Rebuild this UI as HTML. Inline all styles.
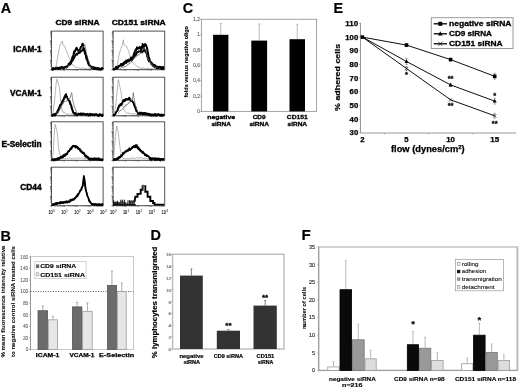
<!DOCTYPE html>
<html><head><meta charset="utf-8"><style>
html,body{margin:0;padding:0;background:#fff;width:520px;height:388px;overflow:hidden}
svg{display:block;will-change:transform;font-family:"Liberation Sans",sans-serif}
</style></head><body>
<svg width="520" height="388" viewBox="0 0 520 388">

<text x="0.85" y="12.6" font-size="14.4" font-weight="bold" text-anchor="start" fill="#000" stroke="#000" stroke-width="0.2" >A</text>
<text x="0.5" y="240.5" font-size="14.4" font-weight="bold" text-anchor="start" fill="#000" stroke="#000" stroke-width="0.2" >B</text>
<text x="182.8" y="12.6" font-size="14.4" font-weight="bold" text-anchor="start" fill="#000" stroke="#000" stroke-width="0.2" >C</text>
<text x="150.6" y="240.4" font-size="14.4" font-weight="bold" text-anchor="start" fill="#000" stroke="#000" stroke-width="0.2" >D</text>
<text x="333.4" y="12.6" font-size="14.4" font-weight="bold" text-anchor="start" fill="#000" stroke="#000" stroke-width="0.2" >E</text>
<text x="301.4" y="240.4" font-size="15.2" font-weight="bold" text-anchor="start" fill="#000" stroke="#000" stroke-width="0.2" >F</text>
<text x="77.5" y="24.9" font-size="8.1" font-weight="bold" text-anchor="middle" fill="#000" textLength="44" lengthAdjust="spacingAndGlyphs" stroke="#000" stroke-width="0.4" >CD9 siRNA</text>
<text x="138.7" y="24.9" font-size="8.1" font-weight="bold" text-anchor="middle" fill="#000" textLength="54.1" lengthAdjust="spacingAndGlyphs" stroke="#000" stroke-width="0.4" >CD151 siRNA</text>
<text x="41.6" y="52.1" font-size="8.2" font-weight="bold" text-anchor="end" fill="#000" textLength="28.3" lengthAdjust="spacingAndGlyphs" stroke="#000" stroke-width="0.4" >ICAM-1</text>
<text x="41.6" y="95.8" font-size="8.2" font-weight="bold" text-anchor="end" fill="#000" textLength="31.5" lengthAdjust="spacingAndGlyphs" stroke="#000" stroke-width="0.4" >VCAM-1</text>
<text x="41.6" y="146.5" font-size="8.2" font-weight="bold" text-anchor="end" fill="#000" textLength="40.2" lengthAdjust="spacingAndGlyphs" stroke="#000" stroke-width="0.4" >E-Selectin</text>
<text x="41.6" y="190.1" font-size="8.2" font-weight="bold" text-anchor="end" fill="#000" textLength="21.4" lengthAdjust="spacingAndGlyphs" stroke="#000" stroke-width="0.4" >CD44</text>
<rect x="51.5" y="31.1" width="51.6" height="38.5" fill="none" stroke="#4a4a4a" stroke-width="0.95"/>
<path d="M49.7,69.60 L51.5,69.60 M50.300000000000004,66.71 L51.5,66.71 M50.300000000000004,65.02 L51.5,65.02 M50.300000000000004,63.82 L51.5,63.82 M50.300000000000004,62.89 L51.5,62.89 M50.300000000000004,62.13 L51.5,62.13 M50.300000000000004,61.49 L51.5,61.49 M50.300000000000004,60.93 L51.5,60.93 M50.300000000000004,60.44 L51.5,60.44 M49.7,60.00 L51.5,60.00 M50.300000000000004,57.11 L51.5,57.11 M50.300000000000004,55.42 L51.5,55.42 M50.300000000000004,54.22 L51.5,54.22 M50.300000000000004,53.29 L51.5,53.29 M50.300000000000004,52.53 L51.5,52.53 M50.300000000000004,51.89 L51.5,51.89 M50.300000000000004,51.33 L51.5,51.33 M50.300000000000004,50.84 L51.5,50.84 M49.7,50.40 L51.5,50.40 M50.300000000000004,47.51 L51.5,47.51 M50.300000000000004,45.82 L51.5,45.82 M50.300000000000004,44.62 L51.5,44.62 M50.300000000000004,43.69 L51.5,43.69 M50.300000000000004,42.93 L51.5,42.93 M50.300000000000004,42.29 L51.5,42.29 M50.300000000000004,41.73 L51.5,41.73 M50.300000000000004,41.24 L51.5,41.24 M49.7,40.80 L51.5,40.80 M50.300000000000004,37.91 L51.5,37.91 M50.300000000000004,36.22 L51.5,36.22 M50.300000000000004,35.02 L51.5,35.02 M50.300000000000004,34.09 L51.5,34.09 M50.300000000000004,33.33 L51.5,33.33 M50.300000000000004,32.69 L51.5,32.69 M50.300000000000004,32.13 L51.5,32.13 M50.300000000000004,31.64 L51.5,31.64 M51.50,69.6 L51.50,71.0 M55.38,69.6 L55.38,70.39999999999999 M57.65,69.6 L57.65,70.39999999999999 M59.27,69.6 L59.27,70.39999999999999 M60.52,69.6 L60.52,70.39999999999999 M61.54,69.6 L61.54,70.39999999999999 M62.40,69.6 L62.40,70.39999999999999 M63.15,69.6 L63.15,70.39999999999999 M63.81,69.6 L63.81,70.39999999999999 M64.40,69.6 L64.40,71.0 M68.28,69.6 L68.28,70.39999999999999 M70.55,69.6 L70.55,70.39999999999999 M72.17,69.6 L72.17,70.39999999999999 M73.42,69.6 L73.42,70.39999999999999 M74.44,69.6 L74.44,70.39999999999999 M75.30,69.6 L75.30,70.39999999999999 M76.05,69.6 L76.05,70.39999999999999 M76.71,69.6 L76.71,70.39999999999999 M77.30,69.6 L77.30,71.0 M81.18,69.6 L81.18,70.39999999999999 M83.45,69.6 L83.45,70.39999999999999 M85.07,69.6 L85.07,70.39999999999999 M86.32,69.6 L86.32,70.39999999999999 M87.34,69.6 L87.34,70.39999999999999 M88.20,69.6 L88.20,70.39999999999999 M88.95,69.6 L88.95,70.39999999999999 M89.61,69.6 L89.61,70.39999999999999 M90.20,69.6 L90.20,71.0 M94.08,69.6 L94.08,70.39999999999999 M96.35,69.6 L96.35,70.39999999999999 M97.97,69.6 L97.97,70.39999999999999 M99.22,69.6 L99.22,70.39999999999999 M100.24,69.6 L100.24,70.39999999999999 M101.10,69.6 L101.10,70.39999999999999 M101.85,69.6 L101.85,70.39999999999999 M102.51,69.6 L102.51,70.39999999999999 " stroke="#444" stroke-width="0.55" fill="none"/>
<rect x="113.1" y="31.1" width="51.6" height="38.5" fill="none" stroke="#4a4a4a" stroke-width="0.95"/>
<path d="M111.3,69.60 L113.1,69.60 M111.89999999999999,66.71 L113.1,66.71 M111.89999999999999,65.02 L113.1,65.02 M111.89999999999999,63.82 L113.1,63.82 M111.89999999999999,62.89 L113.1,62.89 M111.89999999999999,62.13 L113.1,62.13 M111.89999999999999,61.49 L113.1,61.49 M111.89999999999999,60.93 L113.1,60.93 M111.89999999999999,60.44 L113.1,60.44 M111.3,60.00 L113.1,60.00 M111.89999999999999,57.11 L113.1,57.11 M111.89999999999999,55.42 L113.1,55.42 M111.89999999999999,54.22 L113.1,54.22 M111.89999999999999,53.29 L113.1,53.29 M111.89999999999999,52.53 L113.1,52.53 M111.89999999999999,51.89 L113.1,51.89 M111.89999999999999,51.33 L113.1,51.33 M111.89999999999999,50.84 L113.1,50.84 M111.3,50.40 L113.1,50.40 M111.89999999999999,47.51 L113.1,47.51 M111.89999999999999,45.82 L113.1,45.82 M111.89999999999999,44.62 L113.1,44.62 M111.89999999999999,43.69 L113.1,43.69 M111.89999999999999,42.93 L113.1,42.93 M111.89999999999999,42.29 L113.1,42.29 M111.89999999999999,41.73 L113.1,41.73 M111.89999999999999,41.24 L113.1,41.24 M111.3,40.80 L113.1,40.80 M111.89999999999999,37.91 L113.1,37.91 M111.89999999999999,36.22 L113.1,36.22 M111.89999999999999,35.02 L113.1,35.02 M111.89999999999999,34.09 L113.1,34.09 M111.89999999999999,33.33 L113.1,33.33 M111.89999999999999,32.69 L113.1,32.69 M111.89999999999999,32.13 L113.1,32.13 M111.89999999999999,31.64 L113.1,31.64 M113.10,69.6 L113.10,71.0 M116.98,69.6 L116.98,70.39999999999999 M119.25,69.6 L119.25,70.39999999999999 M120.87,69.6 L120.87,70.39999999999999 M122.12,69.6 L122.12,70.39999999999999 M123.14,69.6 L123.14,70.39999999999999 M124.00,69.6 L124.00,70.39999999999999 M124.75,69.6 L124.75,70.39999999999999 M125.41,69.6 L125.41,70.39999999999999 M126.00,69.6 L126.00,71.0 M129.88,69.6 L129.88,70.39999999999999 M132.15,69.6 L132.15,70.39999999999999 M133.77,69.6 L133.77,70.39999999999999 M135.02,69.6 L135.02,70.39999999999999 M136.04,69.6 L136.04,70.39999999999999 M136.90,69.6 L136.90,70.39999999999999 M137.65,69.6 L137.65,70.39999999999999 M138.31,69.6 L138.31,70.39999999999999 M138.90,69.6 L138.90,71.0 M142.78,69.6 L142.78,70.39999999999999 M145.05,69.6 L145.05,70.39999999999999 M146.67,69.6 L146.67,70.39999999999999 M147.92,69.6 L147.92,70.39999999999999 M148.94,69.6 L148.94,70.39999999999999 M149.80,69.6 L149.80,70.39999999999999 M150.55,69.6 L150.55,70.39999999999999 M151.21,69.6 L151.21,70.39999999999999 M151.80,69.6 L151.80,71.0 M155.68,69.6 L155.68,70.39999999999999 M157.95,69.6 L157.95,70.39999999999999 M159.57,69.6 L159.57,70.39999999999999 M160.82,69.6 L160.82,70.39999999999999 M161.84,69.6 L161.84,70.39999999999999 M162.70,69.6 L162.70,70.39999999999999 M163.45,69.6 L163.45,70.39999999999999 M164.11,69.6 L164.11,70.39999999999999 " stroke="#444" stroke-width="0.55" fill="none"/>
<rect x="51.5" y="77.2" width="51.6" height="38.5" fill="none" stroke="#4a4a4a" stroke-width="0.95"/>
<path d="M49.7,115.70 L51.5,115.70 M50.300000000000004,112.81 L51.5,112.81 M50.300000000000004,111.12 L51.5,111.12 M50.300000000000004,109.92 L51.5,109.92 M50.300000000000004,108.99 L51.5,108.99 M50.300000000000004,108.23 L51.5,108.23 M50.300000000000004,107.59 L51.5,107.59 M50.300000000000004,107.03 L51.5,107.03 M50.300000000000004,106.54 L51.5,106.54 M49.7,106.10 L51.5,106.10 M50.300000000000004,103.21 L51.5,103.21 M50.300000000000004,101.52 L51.5,101.52 M50.300000000000004,100.32 L51.5,100.32 M50.300000000000004,99.39 L51.5,99.39 M50.300000000000004,98.63 L51.5,98.63 M50.300000000000004,97.99 L51.5,97.99 M50.300000000000004,97.43 L51.5,97.43 M50.300000000000004,96.94 L51.5,96.94 M49.7,96.50 L51.5,96.50 M50.300000000000004,93.61 L51.5,93.61 M50.300000000000004,91.92 L51.5,91.92 M50.300000000000004,90.72 L51.5,90.72 M50.300000000000004,89.79 L51.5,89.79 M50.300000000000004,89.03 L51.5,89.03 M50.300000000000004,88.39 L51.5,88.39 M50.300000000000004,87.83 L51.5,87.83 M50.300000000000004,87.34 L51.5,87.34 M49.7,86.90 L51.5,86.90 M50.300000000000004,84.01 L51.5,84.01 M50.300000000000004,82.32 L51.5,82.32 M50.300000000000004,81.12 L51.5,81.12 M50.300000000000004,80.19 L51.5,80.19 M50.300000000000004,79.43 L51.5,79.43 M50.300000000000004,78.79 L51.5,78.79 M50.300000000000004,78.23 L51.5,78.23 M50.300000000000004,77.74 L51.5,77.74 M51.50,115.7 L51.50,117.10000000000001 M55.38,115.7 L55.38,116.5 M57.65,115.7 L57.65,116.5 M59.27,115.7 L59.27,116.5 M60.52,115.7 L60.52,116.5 M61.54,115.7 L61.54,116.5 M62.40,115.7 L62.40,116.5 M63.15,115.7 L63.15,116.5 M63.81,115.7 L63.81,116.5 M64.40,115.7 L64.40,117.10000000000001 M68.28,115.7 L68.28,116.5 M70.55,115.7 L70.55,116.5 M72.17,115.7 L72.17,116.5 M73.42,115.7 L73.42,116.5 M74.44,115.7 L74.44,116.5 M75.30,115.7 L75.30,116.5 M76.05,115.7 L76.05,116.5 M76.71,115.7 L76.71,116.5 M77.30,115.7 L77.30,117.10000000000001 M81.18,115.7 L81.18,116.5 M83.45,115.7 L83.45,116.5 M85.07,115.7 L85.07,116.5 M86.32,115.7 L86.32,116.5 M87.34,115.7 L87.34,116.5 M88.20,115.7 L88.20,116.5 M88.95,115.7 L88.95,116.5 M89.61,115.7 L89.61,116.5 M90.20,115.7 L90.20,117.10000000000001 M94.08,115.7 L94.08,116.5 M96.35,115.7 L96.35,116.5 M97.97,115.7 L97.97,116.5 M99.22,115.7 L99.22,116.5 M100.24,115.7 L100.24,116.5 M101.10,115.7 L101.10,116.5 M101.85,115.7 L101.85,116.5 M102.51,115.7 L102.51,116.5 " stroke="#444" stroke-width="0.55" fill="none"/>
<rect x="113.1" y="77.2" width="51.6" height="38.5" fill="none" stroke="#4a4a4a" stroke-width="0.95"/>
<path d="M111.3,115.70 L113.1,115.70 M111.89999999999999,112.81 L113.1,112.81 M111.89999999999999,111.12 L113.1,111.12 M111.89999999999999,109.92 L113.1,109.92 M111.89999999999999,108.99 L113.1,108.99 M111.89999999999999,108.23 L113.1,108.23 M111.89999999999999,107.59 L113.1,107.59 M111.89999999999999,107.03 L113.1,107.03 M111.89999999999999,106.54 L113.1,106.54 M111.3,106.10 L113.1,106.10 M111.89999999999999,103.21 L113.1,103.21 M111.89999999999999,101.52 L113.1,101.52 M111.89999999999999,100.32 L113.1,100.32 M111.89999999999999,99.39 L113.1,99.39 M111.89999999999999,98.63 L113.1,98.63 M111.89999999999999,97.99 L113.1,97.99 M111.89999999999999,97.43 L113.1,97.43 M111.89999999999999,96.94 L113.1,96.94 M111.3,96.50 L113.1,96.50 M111.89999999999999,93.61 L113.1,93.61 M111.89999999999999,91.92 L113.1,91.92 M111.89999999999999,90.72 L113.1,90.72 M111.89999999999999,89.79 L113.1,89.79 M111.89999999999999,89.03 L113.1,89.03 M111.89999999999999,88.39 L113.1,88.39 M111.89999999999999,87.83 L113.1,87.83 M111.89999999999999,87.34 L113.1,87.34 M111.3,86.90 L113.1,86.90 M111.89999999999999,84.01 L113.1,84.01 M111.89999999999999,82.32 L113.1,82.32 M111.89999999999999,81.12 L113.1,81.12 M111.89999999999999,80.19 L113.1,80.19 M111.89999999999999,79.43 L113.1,79.43 M111.89999999999999,78.79 L113.1,78.79 M111.89999999999999,78.23 L113.1,78.23 M111.89999999999999,77.74 L113.1,77.74 M113.10,115.7 L113.10,117.10000000000001 M116.98,115.7 L116.98,116.5 M119.25,115.7 L119.25,116.5 M120.87,115.7 L120.87,116.5 M122.12,115.7 L122.12,116.5 M123.14,115.7 L123.14,116.5 M124.00,115.7 L124.00,116.5 M124.75,115.7 L124.75,116.5 M125.41,115.7 L125.41,116.5 M126.00,115.7 L126.00,117.10000000000001 M129.88,115.7 L129.88,116.5 M132.15,115.7 L132.15,116.5 M133.77,115.7 L133.77,116.5 M135.02,115.7 L135.02,116.5 M136.04,115.7 L136.04,116.5 M136.90,115.7 L136.90,116.5 M137.65,115.7 L137.65,116.5 M138.31,115.7 L138.31,116.5 M138.90,115.7 L138.90,117.10000000000001 M142.78,115.7 L142.78,116.5 M145.05,115.7 L145.05,116.5 M146.67,115.7 L146.67,116.5 M147.92,115.7 L147.92,116.5 M148.94,115.7 L148.94,116.5 M149.80,115.7 L149.80,116.5 M150.55,115.7 L150.55,116.5 M151.21,115.7 L151.21,116.5 M151.80,115.7 L151.80,117.10000000000001 M155.68,115.7 L155.68,116.5 M157.95,115.7 L157.95,116.5 M159.57,115.7 L159.57,116.5 M160.82,115.7 L160.82,116.5 M161.84,115.7 L161.84,116.5 M162.70,115.7 L162.70,116.5 M163.45,115.7 L163.45,116.5 M164.11,115.7 L164.11,116.5 " stroke="#444" stroke-width="0.55" fill="none"/>
<rect x="51.5" y="121.8" width="51.6" height="38.5" fill="none" stroke="#4a4a4a" stroke-width="0.95"/>
<path d="M49.7,160.30 L51.5,160.30 M50.300000000000004,157.41 L51.5,157.41 M50.300000000000004,155.72 L51.5,155.72 M50.300000000000004,154.52 L51.5,154.52 M50.300000000000004,153.59 L51.5,153.59 M50.300000000000004,152.83 L51.5,152.83 M50.300000000000004,152.19 L51.5,152.19 M50.300000000000004,151.63 L51.5,151.63 M50.300000000000004,151.14 L51.5,151.14 M49.7,150.70 L51.5,150.70 M50.300000000000004,147.81 L51.5,147.81 M50.300000000000004,146.12 L51.5,146.12 M50.300000000000004,144.92 L51.5,144.92 M50.300000000000004,143.99 L51.5,143.99 M50.300000000000004,143.23 L51.5,143.23 M50.300000000000004,142.59 L51.5,142.59 M50.300000000000004,142.03 L51.5,142.03 M50.300000000000004,141.54 L51.5,141.54 M49.7,141.10 L51.5,141.10 M50.300000000000004,138.21 L51.5,138.21 M50.300000000000004,136.52 L51.5,136.52 M50.300000000000004,135.32 L51.5,135.32 M50.300000000000004,134.39 L51.5,134.39 M50.300000000000004,133.63 L51.5,133.63 M50.300000000000004,132.99 L51.5,132.99 M50.300000000000004,132.43 L51.5,132.43 M50.300000000000004,131.94 L51.5,131.94 M49.7,131.50 L51.5,131.50 M50.300000000000004,128.61 L51.5,128.61 M50.300000000000004,126.92 L51.5,126.92 M50.300000000000004,125.72 L51.5,125.72 M50.300000000000004,124.79 L51.5,124.79 M50.300000000000004,124.03 L51.5,124.03 M50.300000000000004,123.39 L51.5,123.39 M50.300000000000004,122.83 L51.5,122.83 M50.300000000000004,122.34 L51.5,122.34 M51.50,160.3 L51.50,161.70000000000002 M55.38,160.3 L55.38,161.10000000000002 M57.65,160.3 L57.65,161.10000000000002 M59.27,160.3 L59.27,161.10000000000002 M60.52,160.3 L60.52,161.10000000000002 M61.54,160.3 L61.54,161.10000000000002 M62.40,160.3 L62.40,161.10000000000002 M63.15,160.3 L63.15,161.10000000000002 M63.81,160.3 L63.81,161.10000000000002 M64.40,160.3 L64.40,161.70000000000002 M68.28,160.3 L68.28,161.10000000000002 M70.55,160.3 L70.55,161.10000000000002 M72.17,160.3 L72.17,161.10000000000002 M73.42,160.3 L73.42,161.10000000000002 M74.44,160.3 L74.44,161.10000000000002 M75.30,160.3 L75.30,161.10000000000002 M76.05,160.3 L76.05,161.10000000000002 M76.71,160.3 L76.71,161.10000000000002 M77.30,160.3 L77.30,161.70000000000002 M81.18,160.3 L81.18,161.10000000000002 M83.45,160.3 L83.45,161.10000000000002 M85.07,160.3 L85.07,161.10000000000002 M86.32,160.3 L86.32,161.10000000000002 M87.34,160.3 L87.34,161.10000000000002 M88.20,160.3 L88.20,161.10000000000002 M88.95,160.3 L88.95,161.10000000000002 M89.61,160.3 L89.61,161.10000000000002 M90.20,160.3 L90.20,161.70000000000002 M94.08,160.3 L94.08,161.10000000000002 M96.35,160.3 L96.35,161.10000000000002 M97.97,160.3 L97.97,161.10000000000002 M99.22,160.3 L99.22,161.10000000000002 M100.24,160.3 L100.24,161.10000000000002 M101.10,160.3 L101.10,161.10000000000002 M101.85,160.3 L101.85,161.10000000000002 M102.51,160.3 L102.51,161.10000000000002 " stroke="#444" stroke-width="0.55" fill="none"/>
<rect x="113.1" y="121.8" width="51.6" height="38.5" fill="none" stroke="#4a4a4a" stroke-width="0.95"/>
<path d="M111.3,160.30 L113.1,160.30 M111.89999999999999,157.41 L113.1,157.41 M111.89999999999999,155.72 L113.1,155.72 M111.89999999999999,154.52 L113.1,154.52 M111.89999999999999,153.59 L113.1,153.59 M111.89999999999999,152.83 L113.1,152.83 M111.89999999999999,152.19 L113.1,152.19 M111.89999999999999,151.63 L113.1,151.63 M111.89999999999999,151.14 L113.1,151.14 M111.3,150.70 L113.1,150.70 M111.89999999999999,147.81 L113.1,147.81 M111.89999999999999,146.12 L113.1,146.12 M111.89999999999999,144.92 L113.1,144.92 M111.89999999999999,143.99 L113.1,143.99 M111.89999999999999,143.23 L113.1,143.23 M111.89999999999999,142.59 L113.1,142.59 M111.89999999999999,142.03 L113.1,142.03 M111.89999999999999,141.54 L113.1,141.54 M111.3,141.10 L113.1,141.10 M111.89999999999999,138.21 L113.1,138.21 M111.89999999999999,136.52 L113.1,136.52 M111.89999999999999,135.32 L113.1,135.32 M111.89999999999999,134.39 L113.1,134.39 M111.89999999999999,133.63 L113.1,133.63 M111.89999999999999,132.99 L113.1,132.99 M111.89999999999999,132.43 L113.1,132.43 M111.89999999999999,131.94 L113.1,131.94 M111.3,131.50 L113.1,131.50 M111.89999999999999,128.61 L113.1,128.61 M111.89999999999999,126.92 L113.1,126.92 M111.89999999999999,125.72 L113.1,125.72 M111.89999999999999,124.79 L113.1,124.79 M111.89999999999999,124.03 L113.1,124.03 M111.89999999999999,123.39 L113.1,123.39 M111.89999999999999,122.83 L113.1,122.83 M111.89999999999999,122.34 L113.1,122.34 M113.10,160.3 L113.10,161.70000000000002 M116.98,160.3 L116.98,161.10000000000002 M119.25,160.3 L119.25,161.10000000000002 M120.87,160.3 L120.87,161.10000000000002 M122.12,160.3 L122.12,161.10000000000002 M123.14,160.3 L123.14,161.10000000000002 M124.00,160.3 L124.00,161.10000000000002 M124.75,160.3 L124.75,161.10000000000002 M125.41,160.3 L125.41,161.10000000000002 M126.00,160.3 L126.00,161.70000000000002 M129.88,160.3 L129.88,161.10000000000002 M132.15,160.3 L132.15,161.10000000000002 M133.77,160.3 L133.77,161.10000000000002 M135.02,160.3 L135.02,161.10000000000002 M136.04,160.3 L136.04,161.10000000000002 M136.90,160.3 L136.90,161.10000000000002 M137.65,160.3 L137.65,161.10000000000002 M138.31,160.3 L138.31,161.10000000000002 M138.90,160.3 L138.90,161.70000000000002 M142.78,160.3 L142.78,161.10000000000002 M145.05,160.3 L145.05,161.10000000000002 M146.67,160.3 L146.67,161.10000000000002 M147.92,160.3 L147.92,161.10000000000002 M148.94,160.3 L148.94,161.10000000000002 M149.80,160.3 L149.80,161.10000000000002 M150.55,160.3 L150.55,161.10000000000002 M151.21,160.3 L151.21,161.10000000000002 M151.80,160.3 L151.80,161.70000000000002 M155.68,160.3 L155.68,161.10000000000002 M157.95,160.3 L157.95,161.10000000000002 M159.57,160.3 L159.57,161.10000000000002 M160.82,160.3 L160.82,161.10000000000002 M161.84,160.3 L161.84,161.10000000000002 M162.70,160.3 L162.70,161.10000000000002 M163.45,160.3 L163.45,161.10000000000002 M164.11,160.3 L164.11,161.10000000000002 " stroke="#444" stroke-width="0.55" fill="none"/>
<rect x="51.5" y="167.2" width="51.6" height="38.5" fill="none" stroke="#4a4a4a" stroke-width="0.95"/>
<path d="M49.7,205.70 L51.5,205.70 M50.300000000000004,202.81 L51.5,202.81 M50.300000000000004,201.12 L51.5,201.12 M50.300000000000004,199.92 L51.5,199.92 M50.300000000000004,198.99 L51.5,198.99 M50.300000000000004,198.23 L51.5,198.23 M50.300000000000004,197.59 L51.5,197.59 M50.300000000000004,197.03 L51.5,197.03 M50.300000000000004,196.54 L51.5,196.54 M49.7,196.10 L51.5,196.10 M50.300000000000004,193.21 L51.5,193.21 M50.300000000000004,191.52 L51.5,191.52 M50.300000000000004,190.32 L51.5,190.32 M50.300000000000004,189.39 L51.5,189.39 M50.300000000000004,188.63 L51.5,188.63 M50.300000000000004,187.99 L51.5,187.99 M50.300000000000004,187.43 L51.5,187.43 M50.300000000000004,186.94 L51.5,186.94 M49.7,186.50 L51.5,186.50 M50.300000000000004,183.61 L51.5,183.61 M50.300000000000004,181.92 L51.5,181.92 M50.300000000000004,180.72 L51.5,180.72 M50.300000000000004,179.79 L51.5,179.79 M50.300000000000004,179.03 L51.5,179.03 M50.300000000000004,178.39 L51.5,178.39 M50.300000000000004,177.83 L51.5,177.83 M50.300000000000004,177.34 L51.5,177.34 M49.7,176.90 L51.5,176.90 M50.300000000000004,174.01 L51.5,174.01 M50.300000000000004,172.32 L51.5,172.32 M50.300000000000004,171.12 L51.5,171.12 M50.300000000000004,170.19 L51.5,170.19 M50.300000000000004,169.43 L51.5,169.43 M50.300000000000004,168.79 L51.5,168.79 M50.300000000000004,168.23 L51.5,168.23 M50.300000000000004,167.74 L51.5,167.74 M51.50,205.7 L51.50,207.1 M55.38,205.7 L55.38,206.5 M57.65,205.7 L57.65,206.5 M59.27,205.7 L59.27,206.5 M60.52,205.7 L60.52,206.5 M61.54,205.7 L61.54,206.5 M62.40,205.7 L62.40,206.5 M63.15,205.7 L63.15,206.5 M63.81,205.7 L63.81,206.5 M64.40,205.7 L64.40,207.1 M68.28,205.7 L68.28,206.5 M70.55,205.7 L70.55,206.5 M72.17,205.7 L72.17,206.5 M73.42,205.7 L73.42,206.5 M74.44,205.7 L74.44,206.5 M75.30,205.7 L75.30,206.5 M76.05,205.7 L76.05,206.5 M76.71,205.7 L76.71,206.5 M77.30,205.7 L77.30,207.1 M81.18,205.7 L81.18,206.5 M83.45,205.7 L83.45,206.5 M85.07,205.7 L85.07,206.5 M86.32,205.7 L86.32,206.5 M87.34,205.7 L87.34,206.5 M88.20,205.7 L88.20,206.5 M88.95,205.7 L88.95,206.5 M89.61,205.7 L89.61,206.5 M90.20,205.7 L90.20,207.1 M94.08,205.7 L94.08,206.5 M96.35,205.7 L96.35,206.5 M97.97,205.7 L97.97,206.5 M99.22,205.7 L99.22,206.5 M100.24,205.7 L100.24,206.5 M101.10,205.7 L101.10,206.5 M101.85,205.7 L101.85,206.5 M102.51,205.7 L102.51,206.5 " stroke="#444" stroke-width="0.55" fill="none"/>
<rect x="113.1" y="167.2" width="51.6" height="38.5" fill="none" stroke="#4a4a4a" stroke-width="0.95"/>
<path d="M111.3,205.70 L113.1,205.70 M111.89999999999999,202.81 L113.1,202.81 M111.89999999999999,201.12 L113.1,201.12 M111.89999999999999,199.92 L113.1,199.92 M111.89999999999999,198.99 L113.1,198.99 M111.89999999999999,198.23 L113.1,198.23 M111.89999999999999,197.59 L113.1,197.59 M111.89999999999999,197.03 L113.1,197.03 M111.89999999999999,196.54 L113.1,196.54 M111.3,196.10 L113.1,196.10 M111.89999999999999,193.21 L113.1,193.21 M111.89999999999999,191.52 L113.1,191.52 M111.89999999999999,190.32 L113.1,190.32 M111.89999999999999,189.39 L113.1,189.39 M111.89999999999999,188.63 L113.1,188.63 M111.89999999999999,187.99 L113.1,187.99 M111.89999999999999,187.43 L113.1,187.43 M111.89999999999999,186.94 L113.1,186.94 M111.3,186.50 L113.1,186.50 M111.89999999999999,183.61 L113.1,183.61 M111.89999999999999,181.92 L113.1,181.92 M111.89999999999999,180.72 L113.1,180.72 M111.89999999999999,179.79 L113.1,179.79 M111.89999999999999,179.03 L113.1,179.03 M111.89999999999999,178.39 L113.1,178.39 M111.89999999999999,177.83 L113.1,177.83 M111.89999999999999,177.34 L113.1,177.34 M111.3,176.90 L113.1,176.90 M111.89999999999999,174.01 L113.1,174.01 M111.89999999999999,172.32 L113.1,172.32 M111.89999999999999,171.12 L113.1,171.12 M111.89999999999999,170.19 L113.1,170.19 M111.89999999999999,169.43 L113.1,169.43 M111.89999999999999,168.79 L113.1,168.79 M111.89999999999999,168.23 L113.1,168.23 M111.89999999999999,167.74 L113.1,167.74 M113.10,205.7 L113.10,207.1 M116.98,205.7 L116.98,206.5 M119.25,205.7 L119.25,206.5 M120.87,205.7 L120.87,206.5 M122.12,205.7 L122.12,206.5 M123.14,205.7 L123.14,206.5 M124.00,205.7 L124.00,206.5 M124.75,205.7 L124.75,206.5 M125.41,205.7 L125.41,206.5 M126.00,205.7 L126.00,207.1 M129.88,205.7 L129.88,206.5 M132.15,205.7 L132.15,206.5 M133.77,205.7 L133.77,206.5 M135.02,205.7 L135.02,206.5 M136.04,205.7 L136.04,206.5 M136.90,205.7 L136.90,206.5 M137.65,205.7 L137.65,206.5 M138.31,205.7 L138.31,206.5 M138.90,205.7 L138.90,207.1 M142.78,205.7 L142.78,206.5 M145.05,205.7 L145.05,206.5 M146.67,205.7 L146.67,206.5 M147.92,205.7 L147.92,206.5 M148.94,205.7 L148.94,206.5 M149.80,205.7 L149.80,206.5 M150.55,205.7 L150.55,206.5 M151.21,205.7 L151.21,206.5 M151.80,205.7 L151.80,207.1 M155.68,205.7 L155.68,206.5 M157.95,205.7 L157.95,206.5 M159.57,205.7 L159.57,206.5 M160.82,205.7 L160.82,206.5 M161.84,205.7 L161.84,206.5 M162.70,205.7 L162.70,206.5 M163.45,205.7 L163.45,206.5 M164.11,205.7 L164.11,206.5 " stroke="#444" stroke-width="0.55" fill="none"/>
<polyline points="52.00,68.71 52.50,69.31 53.00,69.05 53.50,68.34 54.00,68.43 54.50,68.21 55.00,68.26 55.65,67.41 56.30,65.66 56.87,61.92 57.43,59.13 58.00,55.03 58.50,52.88 59.00,49.56 59.50,47.54 60.00,45.34 60.50,43.81 61.00,43.58 61.50,42.53 62.20,41.09 63.00,44.59 63.50,45.48 64.00,46.24 64.50,45.97 65.00,47.13 65.50,48.68 66.00,49.59 66.56,51.20 67.12,52.83 67.68,54.30 68.24,55.41 68.80,56.81 69.35,58.05 69.90,59.56 70.45,60.62 71.00,61.58 71.50,63.21 72.00,63.66 72.50,64.50 73.00,64.76 73.58,66.13 74.15,66.49 74.72,66.19 75.30,66.92 75.82,67.45 76.34,67.55 76.87,67.90 77.39,67.46 77.91,68.01 78.43,67.95 78.96,67.67 79.48,68.08 80.00,68.51 80.50,68.50 81.00,68.16 81.50,68.27 82.00,67.70 82.50,67.95 83.00,68.57 83.50,68.18 84.00,67.95 84.50,68.38 85.00,68.57 85.50,68.56 86.00,68.26 86.50,68.36 87.00,68.46 87.50,68.78 88.00,68.52 88.50,68.41 89.00,68.54 89.50,68.07 90.00,68.11 90.50,68.84 91.00,69.16 91.50,68.76 92.00,68.56 92.50,68.34 93.00,68.72 93.50,69.26 94.00,69.05 94.50,68.82 95.00,69.18 95.50,68.52 96.00,68.85 96.50,69.34 97.00,68.95 97.50,68.84 98.00,68.66 98.50,68.98 99.00,69.44 99.50,68.43 100.00,69.29 100.50,69.35 101.00,69.44 101.50,69.30 102.00,69.40 102.50,69.10 103.00,69.10" fill="none" stroke="#8c8c8c" stroke-width="0.65" stroke-linejoin="round"/>
<polyline points="52.00,70.17 52.46,70.07 52.92,67.91 53.38,67.90 53.85,69.58 54.31,69.27 54.77,69.04 55.23,68.11 55.69,68.73 56.15,68.66 56.62,68.52 57.08,67.45 57.54,68.01 58.00,67.85 58.46,68.59 58.92,69.20 59.38,69.06 59.84,68.09 60.29,67.82 60.75,67.38 61.21,66.81 61.67,66.76 62.13,67.75 62.59,67.38 63.05,67.50 63.51,68.66 63.96,67.78 64.42,67.83 64.88,67.04 65.34,66.52 65.80,67.19 66.35,66.12 66.90,66.37 67.45,66.89 68.00,65.51 68.50,63.61 69.00,64.52 69.50,63.54 70.00,62.65 70.57,62.05 71.13,60.72 71.70,59.78 72.30,56.76 72.90,56.23 73.50,54.18 74.00,51.31 74.50,51.69 75.00,50.60 75.50,49.18 76.00,48.50 76.50,47.58 77.00,49.43 77.50,49.27 78.00,50.88 78.80,52.26 79.40,51.25 80.00,49.04 80.50,47.18 81.00,46.59 81.50,46.58 81.95,45.12 82.40,43.57 82.95,45.20 83.50,47.69 84.00,50.23 84.50,50.65 85.00,54.05 85.53,54.06 86.05,57.06 86.57,57.15 87.10,60.17 87.57,61.08 88.05,62.11 88.53,63.64 89.00,65.45 89.57,65.97 90.13,65.99 90.70,66.42 91.18,67.29 91.66,68.45 92.13,67.89 92.61,66.77 93.09,68.68 93.57,68.63 94.04,69.22 94.52,67.71 95.00,69.17 95.47,67.60 95.94,69.02 96.41,68.16 96.88,68.08 97.35,69.63 97.82,67.86 98.29,68.86 98.76,69.66 99.24,68.27 99.71,68.22 100.18,69.81 100.65,68.77 101.12,69.49 101.59,67.92 102.06,68.72 102.53,68.30 103.00,69.10" fill="none" stroke="#000" stroke-width="1.61" stroke-linejoin="round"/>
<polyline points="52.00,68.21 52.47,69.32 52.94,68.12 53.41,69.42 53.89,69.09 54.36,68.45 54.83,68.97 55.30,68.77 55.77,67.38 56.24,68.53 56.71,68.69 57.19,68.36 57.66,69.20 58.13,68.76 58.60,67.79 59.06,67.38 59.52,67.10 59.98,68.79 60.44,68.46 60.89,68.23 61.35,67.78 61.81,67.90 62.27,67.16 62.73,67.91 63.19,66.91 63.65,68.08 64.11,68.08 64.56,68.15 65.02,67.05 65.48,66.63 65.94,67.21 66.40,68.07 66.95,67.00 67.50,66.97 68.05,65.55 68.60,64.84 69.10,65.38 69.60,62.76 70.10,62.11 70.60,62.32 71.17,61.43 71.73,59.93 72.30,59.25 72.90,56.95 73.50,55.53 74.10,54.08 74.60,52.92 75.10,51.45 75.60,50.02 76.10,50.39 76.60,48.30 77.10,47.92 77.60,49.36 78.10,49.73 78.60,49.82 79.40,53.21 80.00,50.60 80.60,49.15 81.10,47.58 81.60,46.52 82.10,46.79 82.55,44.67 83.00,43.34 83.55,46.95 84.10,49.22 84.60,48.94 85.10,50.36 85.60,54.00 86.12,55.56 86.65,55.81 87.17,56.98 87.70,59.56 88.17,61.71 88.65,61.38 89.12,63.47 89.60,65.51 90.17,65.06 90.73,66.22 91.30,66.20 91.78,67.22 92.26,66.75 92.73,66.54 93.21,67.49 93.69,67.05 94.17,67.14 94.64,67.39 95.12,68.23 95.60,68.14 96.06,69.21 96.52,68.45 96.99,68.05 97.45,67.94 97.91,68.24 98.38,69.40 98.84,68.07 99.30,68.76 99.76,69.65 100.22,69.74 100.69,68.85 101.15,69.84 101.61,69.37 102.08,68.35 102.54,68.04 103.00,69.10" fill="none" stroke="#000" stroke-width="1.19" stroke-linejoin="round"/>
<polyline points="66.00,67.68 66.50,67.80 67.00,67.14 67.50,67.14 68.00,66.80 68.50,65.53 69.00,65.07 69.50,66.01 70.00,64.71 70.50,63.84 71.00,64.23 71.50,62.55 72.00,62.31 72.50,60.90 73.00,60.32 73.50,58.71 74.00,58.65 74.50,58.19 75.00,56.80 75.50,56.32 76.00,55.37 76.50,53.74 77.00,54.18 77.50,53.25 78.00,52.12 78.50,51.02 79.00,51.68 79.50,50.39 80.00,50.12 80.50,49.71 81.00,48.78 81.50,48.44 82.00,46.93 82.56,47.18 83.12,46.21 83.68,46.60 84.24,46.11 84.80,44.46 85.40,47.52 86.00,50.65 86.50,54.09 87.00,55.50 87.50,58.05 88.00,59.78 88.50,61.61 89.00,62.92 89.50,64.36 90.00,66.24 90.50,66.57 91.00,67.41 91.50,67.39 92.00,68.12 92.50,68.34 93.00,68.10" fill="none" stroke="#666" stroke-width="0.75" stroke-linejoin="round"/>
<polyline points="70.00,65.28 70.50,64.44 71.00,63.92 71.50,61.52 72.00,61.49 72.50,61.12 73.00,60.16 73.50,57.28 74.00,57.49 74.50,56.40 75.00,55.11 75.50,55.31 76.00,54.17 76.50,53.96 77.00,55.25 77.50,54.45 78.00,53.58 78.50,53.10 79.00,53.09 79.50,51.44 80.00,52.38 80.50,52.11 81.00,50.71 81.50,51.20 82.00,50.81 82.50,49.24 83.00,50.32 83.50,49.60 84.00,50.20 84.50,53.35 85.00,53.29 85.50,54.85 86.00,58.38 86.50,59.75 87.00,59.62 87.50,61.64 88.00,62.93 88.50,65.10" fill="none" stroke="#000" stroke-width="1.23" stroke-linejoin="round"/>
<polyline points="70.00,65.08 70.51,64.19 71.03,64.14 71.54,63.39 72.06,61.22 72.57,60.94 73.09,60.30 73.60,59.69 74.10,59.36 74.60,57.78 75.10,57.15 75.60,55.56 76.10,53.44 76.60,53.50 77.10,52.72 77.60,54.11 78.10,53.14 78.60,53.50 79.10,52.62 79.60,51.72 80.10,53.35 80.60,51.61 81.10,51.93 81.60,52.03 82.10,49.71 82.60,49.92 83.10,48.06 83.60,48.78 84.10,51.16 84.60,50.19 85.10,53.47 85.60,53.16 86.10,56.66 86.60,58.65 87.10,57.90 87.57,60.82 88.03,63.09 88.50,65.10" fill="none" stroke="#000" stroke-width="0.91" stroke-linejoin="round"/>
<polyline points="113.00,68.81 113.50,68.50 114.00,68.65 114.50,68.23 115.00,67.97 115.50,68.16 116.00,68.55 116.65,66.92 117.30,65.39 117.87,61.47 118.43,58.47 119.00,54.86 119.50,53.00 120.00,51.17 120.50,49.54 121.00,48.56 121.60,46.79 122.20,45.10 122.80,43.42 123.30,39.77 124.00,44.89 124.50,45.40 125.00,45.68 125.50,45.98 126.00,46.51 126.50,46.15 127.00,47.21 127.50,48.62 128.00,49.77 128.50,50.75 129.13,53.07 129.77,54.66 130.40,57.57 130.93,58.74 131.45,59.65 131.97,60.63 132.50,62.54 133.00,62.68 133.50,63.51 134.00,63.98 134.50,64.11 135.10,64.67 135.70,65.54 136.30,66.03 136.83,66.02 137.36,66.46 137.89,67.29 138.41,66.75 138.94,67.04 139.47,67.95 140.00,67.86 140.50,68.16 141.00,68.12 141.50,68.01 142.00,68.74 142.50,67.90 143.00,68.16 143.50,67.95 144.00,68.44 144.50,68.08 145.00,68.19 145.50,68.64 146.00,68.21 146.50,68.49 147.00,68.89 147.50,68.04 148.00,68.03 148.50,68.23 149.00,68.84 149.50,68.70 150.00,68.32 150.50,68.44 151.00,68.29 151.50,68.61 152.00,68.18 152.50,68.90 153.00,69.13 153.50,69.22 154.00,69.00 154.50,69.26 155.00,68.26 155.50,68.57 156.00,69.32 156.50,69.13 157.00,68.75 157.50,69.35 158.00,69.02 158.50,69.25 159.00,68.70 159.50,68.61 160.00,68.90 160.50,68.58 161.00,68.87 161.50,69.51 162.00,68.85 162.50,68.52 163.00,68.57 163.50,68.73 164.00,69.10" fill="none" stroke="#8c8c8c" stroke-width="0.65" stroke-linejoin="round"/>
<polyline points="113.00,69.42 113.50,69.48 114.00,69.37 114.50,69.50 115.00,68.72 115.50,69.03 116.00,66.54 116.50,67.51 117.00,68.59 117.50,67.65 118.00,68.14 118.48,65.76 118.97,66.35 119.45,65.44 119.93,65.88 120.42,65.63 120.90,63.83 121.42,64.03 121.93,63.86 122.45,65.18 122.97,64.46 123.48,62.55 124.00,63.87 124.50,61.83 125.00,62.74 125.50,61.13 126.00,60.47 126.50,62.40 127.00,60.34 127.50,60.03 128.00,61.69 128.50,61.07 129.00,59.22 129.50,60.63 130.00,59.20 130.50,59.06 131.00,57.33 131.50,58.75 132.00,57.60 132.50,57.81 133.00,57.12 133.46,54.58 133.92,53.74 134.38,52.23 134.84,51.18 135.30,49.97 135.90,49.08 136.50,48.37 137.00,47.14 137.50,49.23 138.00,48.68 138.50,47.94 139.00,48.59 139.50,47.05 140.00,47.29 140.50,48.38 141.00,49.63 141.50,46.61 142.00,47.67 142.50,43.86 143.00,47.25 143.50,49.00 144.00,45.51 144.50,46.18 145.00,43.75 145.50,45.30 146.00,44.82 146.50,45.92 147.00,48.77 147.50,53.28 148.00,53.81 148.50,57.76 149.00,59.88 149.50,61.58 150.00,61.70 150.48,62.22 150.97,63.16 151.45,64.32 151.93,63.08 152.42,65.25 152.90,65.87 153.42,66.37 153.93,64.56 154.45,67.26 154.97,65.37 155.48,66.35 156.00,67.39 156.50,68.25 157.00,66.81 157.50,68.39 158.00,67.47 158.50,66.92 159.00,67.00 159.50,66.70 160.00,66.50 160.50,66.75 161.00,68.22 161.50,69.08 162.00,66.97 162.50,66.74 163.00,69.24 163.50,68.12 164.00,68.10" fill="none" stroke="#000" stroke-width="1.61" stroke-linejoin="round"/>
<polyline points="113.00,70.16 113.52,68.48 114.04,69.51 114.56,69.76 115.08,67.77 115.60,68.85 116.10,67.47 116.60,66.83 117.10,67.18 117.60,68.14 118.10,66.28 118.60,67.55 119.08,66.35 119.57,65.51 120.05,65.90 120.53,65.45 121.02,65.32 121.50,66.17 122.02,65.94 122.53,63.67 123.05,65.47 123.57,64.08 124.08,64.72 124.60,63.99 125.10,62.84 125.60,61.74 126.10,63.30 126.60,63.16 127.10,61.78 127.60,60.03 128.10,61.67 128.60,61.18 129.10,61.16 129.60,61.10 130.10,60.77 130.60,59.76 131.10,58.30 131.60,58.19 132.10,57.61 132.60,57.83 133.10,56.95 133.60,57.01 134.06,55.14 134.52,54.35 134.98,54.40 135.44,52.92 135.90,52.31 136.50,50.16 137.10,47.05 137.60,48.21 138.10,48.18 138.60,48.44 139.10,47.39 139.60,46.68 140.10,47.05 140.60,48.56 141.10,49.46 141.60,50.41 142.10,48.00 142.60,45.07 143.10,44.24 143.60,45.36 144.10,49.13 144.60,46.26 145.10,46.06 145.60,43.96 146.10,45.33 146.60,47.08 147.10,47.54 147.60,48.41 148.10,52.48 148.60,54.20 149.10,58.43 149.60,58.12 150.10,59.71 150.60,63.28 151.08,62.36 151.57,61.93 152.05,64.43 152.53,65.27 153.02,64.58 153.50,64.17 154.02,66.46 154.53,65.32 155.05,65.39 155.57,65.16 156.08,67.83 156.60,66.36 157.10,66.10 157.60,66.84 158.10,67.85 158.60,68.74 159.10,66.60 159.60,67.80 160.10,66.89 160.60,68.61 161.09,67.64 161.57,68.26 162.06,68.76 162.54,67.98 163.03,67.88 163.51,66.66 164.00,68.10" fill="none" stroke="#000" stroke-width="1.19" stroke-linejoin="round"/>
<polyline points="131.00,59.03 131.50,60.77 132.00,58.19 132.50,59.22 133.00,58.99 133.50,58.24 134.00,56.59 134.50,55.91 135.00,56.08 135.50,55.91 136.00,54.32 136.50,53.21 137.00,52.41 137.50,52.05 138.00,52.47 138.50,51.32 139.00,51.19 139.50,51.61 140.00,51.78 140.50,50.41 141.00,51.07 141.50,52.47 142.00,52.28 142.50,52.65 143.00,50.27 143.50,50.40 144.00,50.77 144.50,51.08 145.00,49.31 145.50,52.29 146.00,52.87 146.50,54.09 147.00,56.96 147.50,56.58 148.00,60.23 148.50,60.11 149.00,62.10" fill="none" stroke="#000" stroke-width="1.33" stroke-linejoin="round"/>
<polyline points="131.00,60.33 131.51,59.78 132.03,60.35 132.54,60.17 133.06,59.16 133.57,57.72 134.09,57.63 134.60,57.97 135.10,56.52 135.60,54.87 136.10,53.84 136.60,55.20 137.10,51.87 137.60,51.37 138.10,52.38 138.60,51.00 139.10,50.77 139.60,51.48 140.10,52.02 140.60,51.50 141.10,52.90 141.60,52.02 142.10,51.48 142.60,52.72 143.10,50.95 143.60,51.46 144.10,51.48 144.60,49.70 145.10,50.24 145.60,51.06 146.10,51.82 146.60,54.28 147.10,54.00 147.60,56.48 148.07,57.94 148.53,58.84 149.00,62.10" fill="none" stroke="#000" stroke-width="0.98" stroke-linejoin="round"/>
<polyline points="120.00,68.57 120.50,68.45 121.00,67.74 121.50,67.22 122.00,66.63 122.50,67.53 123.00,67.05 123.50,67.35 124.00,66.56 124.50,67.03 125.00,66.07 125.50,66.75 126.00,66.47 126.50,65.56 127.00,65.36 127.50,65.19 128.00,64.01 128.50,64.19 129.00,64.19 129.50,62.92 130.00,63.39 130.50,62.80 131.00,62.65 131.50,61.21 132.00,60.20 132.50,60.71 133.00,60.09 133.50,58.89 134.00,57.70 134.50,57.24 135.00,57.32 135.50,56.39 136.00,57.07 136.50,56.12 137.00,55.12 137.50,55.47 138.00,54.63 138.50,55.17 139.00,54.76 139.50,53.79 140.00,53.66 140.50,53.42 141.00,53.26 141.50,53.20 142.00,51.35 142.50,50.63 143.00,49.76 143.50,48.04 144.00,47.24 144.50,47.44 145.00,49.71 145.50,50.14 146.00,50.49 146.50,53.36 147.00,54.80 147.50,56.61 148.00,59.07 148.50,59.35 149.00,60.30 149.50,62.18 150.00,62.75 150.50,62.49 151.00,64.54 151.50,63.83 152.00,64.83 152.50,66.25 153.00,66.29 153.50,66.29 154.00,66.90 154.50,67.05 155.00,66.75 155.50,68.27 156.00,66.89 156.50,67.60 157.00,68.24 157.50,67.81 158.00,68.10" fill="none" stroke="#666" stroke-width="0.75" stroke-linejoin="round"/>
<polyline points="52.00,115.01 52.50,113.32 53.00,112.36 53.50,108.07 54.00,104.91 54.50,101.05 55.00,95.39 55.50,90.54 56.00,84.70 56.90,79.13 57.45,80.24 58.00,81.76 58.50,84.12 59.00,86.55 59.50,87.79 60.00,93.23 60.50,99.00 61.00,104.68 61.50,107.28 62.00,110.09 62.70,111.71 63.40,111.71 63.92,112.99 64.44,112.77 64.96,113.02 65.48,113.39 66.00,113.99 66.50,114.57 67.00,113.91 67.50,114.37 68.00,114.46 68.50,114.20 69.00,114.42 69.50,113.92 70.00,113.95 70.50,114.13 71.00,114.67 71.50,114.43 72.00,114.33 72.50,114.65 73.00,114.54 73.50,114.40 74.00,114.96 74.50,114.89 75.00,114.42 75.50,114.80 76.00,114.76 76.50,115.16 77.00,115.01 77.50,114.55 78.00,115.32 78.50,114.40 79.00,114.74 79.50,115.13 80.00,114.49 80.50,114.87 81.00,114.40 81.50,115.10 82.00,115.22 82.50,115.03 83.00,115.37 83.50,114.78 84.00,115.21 84.50,115.12 85.00,115.12 85.50,115.00 86.00,115.43 86.50,115.56 87.00,115.07 87.50,115.29 88.00,114.66 88.50,115.37 89.00,115.33 89.50,115.72 90.00,115.20" fill="none" stroke="#8c8c8c" stroke-width="0.65" stroke-linejoin="round"/>
<polyline points="52.00,114.63 52.50,116.08 53.00,114.26 53.50,115.38 54.00,114.00 54.50,114.26 55.00,115.74 55.50,113.47 56.00,113.75 56.50,112.74 57.00,112.10 57.48,111.19 57.97,109.56 58.45,109.89 58.93,107.35 59.42,106.65 59.90,105.20 60.42,104.71 60.95,104.01 61.48,104.04 62.00,101.95 62.50,100.40 63.00,99.70 63.50,100.22 64.00,97.29 64.53,97.12 65.07,95.28 65.60,94.53 66.07,94.86 66.53,96.60 67.00,97.19 67.50,98.51 68.00,100.03 68.50,100.37 69.00,100.46 69.50,101.29 70.00,104.13 70.50,104.18 71.00,105.23 71.50,108.46 72.00,109.36 72.50,111.01 73.00,112.66 73.50,112.75 74.00,113.10 74.50,114.39 75.00,113.04 75.50,114.55 76.00,113.36 76.46,114.60 76.92,114.62 77.38,115.14 77.85,114.91 78.31,114.21 78.77,113.57 79.23,113.47 79.69,114.26 80.15,114.22 80.62,113.31 81.08,115.04 81.54,114.22 82.00,114.62 82.47,113.65 82.94,113.73 83.41,113.28 83.88,114.00 84.34,113.87 84.81,114.23 85.28,114.16 85.75,115.15 86.22,115.30 86.69,113.84 87.16,114.33 87.62,113.88 88.09,114.95 88.56,115.63 89.03,114.05 89.50,115.25 89.95,114.30 90.40,113.72 90.85,115.30 91.30,114.44 91.75,114.10 92.20,114.67 92.65,114.26 93.10,114.65 93.55,114.74 94.00,114.70 94.45,115.07 94.90,114.46 95.35,114.07 95.80,114.07 96.25,114.13 96.70,115.01 97.15,114.69 97.60,115.64 98.05,115.03 98.50,115.47 98.95,116.05 99.40,114.16 99.85,114.08 100.30,114.35 100.75,114.88 101.20,115.29 101.65,115.66 102.10,114.86 102.55,116.15 103.00,115.20" fill="none" stroke="#000" stroke-width="1.61" stroke-linejoin="round"/>
<polyline points="52.00,114.37 52.45,115.84 52.90,115.93 53.35,114.76 53.80,114.45 54.25,114.21 54.70,113.89 55.15,114.12 55.60,114.03 56.10,114.87 56.60,112.76 57.10,112.13 57.60,113.16 58.08,112.13 58.57,109.31 59.05,108.80 59.53,109.29 60.02,106.95 60.50,106.49 61.02,105.63 61.55,104.53 62.08,102.20 62.60,102.70 63.10,101.90 63.60,100.08 64.10,98.85 64.60,98.70 65.13,97.96 65.67,96.52 66.20,93.53 66.67,95.78 67.13,96.18 67.60,98.29 68.10,99.25 68.60,99.16 69.10,101.10 69.60,102.06 70.10,101.33 70.60,102.99 71.10,105.20 71.60,105.27 72.10,107.40 72.60,109.49 73.10,110.20 73.60,112.51 74.10,112.49 74.60,113.62 75.10,113.72 75.60,112.74 76.10,114.65 76.60,114.85 77.06,114.99 77.52,113.51 77.98,114.27 78.45,113.42 78.91,114.72 79.37,114.46 79.83,115.08 80.29,113.39 80.75,113.65 81.22,113.24 81.68,115.16 82.14,114.53 82.60,113.40 83.07,114.77 83.54,114.14 84.01,114.07 84.47,114.96 84.94,114.87 85.41,114.35 85.88,113.95 86.35,114.20 86.82,114.23 87.29,113.81 87.76,113.81 88.22,114.71 88.69,115.66 89.16,114.82 89.63,114.45 90.10,113.65 90.56,115.66 91.02,114.33 91.48,114.29 91.94,115.26 92.40,115.65 92.86,113.93 93.32,113.86 93.79,114.21 94.25,115.97 94.71,114.91 95.17,114.01 95.63,115.25 96.09,114.94 96.55,114.07 97.01,114.00 97.47,114.70 97.93,116.05 98.39,114.86 98.85,116.14 99.31,114.78 99.78,114.68 100.24,114.20 100.70,115.35 101.16,114.37 101.62,116.15 102.08,115.44 102.54,114.11 103.00,115.20" fill="none" stroke="#000" stroke-width="1.19" stroke-linejoin="round"/>
<polyline points="56.00,114.14 56.50,113.50 57.00,112.62 57.50,113.29 58.00,111.41 58.50,111.70 59.00,111.84 59.50,109.53 60.00,109.29 60.50,108.39 61.00,106.47 61.50,106.01 62.00,105.53 62.50,104.46 63.00,104.23 63.50,102.65 64.00,102.11 64.50,101.24 65.00,101.21 65.50,101.71 66.00,101.01 66.50,101.14 67.00,100.35 67.50,100.76 68.00,99.56 68.50,99.37 69.00,99.48 69.50,99.06 70.00,98.07 70.57,95.87 71.13,94.49 71.70,92.74 72.50,98.85 73.00,101.70 73.50,102.72 74.00,105.82 74.50,107.31 75.00,107.49 75.50,109.51 76.00,111.19 76.50,111.19 77.00,112.58 77.50,114.10 78.00,114.20" fill="none" stroke="#666" stroke-width="0.75" stroke-linejoin="round"/>
<polyline points="113.00,115.28 113.50,114.12 114.00,113.28 114.50,111.88 115.00,109.54 115.50,106.55 116.00,103.37 116.50,97.50 117.00,92.56 117.50,87.01 118.00,82.93 118.50,79.69 119.00,82.74 119.50,84.71 120.20,88.59 120.90,91.31 121.45,95.57 122.00,99.97 122.50,103.39 123.00,106.15 123.70,108.40 124.40,110.37 124.92,110.40 125.44,111.69 125.96,112.52 126.48,113.11 127.00,113.32 127.50,112.77 128.00,112.79 128.50,112.99 129.00,113.93 129.50,113.30 130.00,113.43 130.50,114.07 131.00,113.50 131.50,113.82 132.00,113.76 132.50,113.42 133.00,114.04 133.50,114.38 134.00,113.70 134.50,113.84 135.00,114.11 135.50,113.73 136.00,114.26 136.50,114.64 137.00,114.50 137.50,114.40 138.00,114.78 138.50,114.05 139.00,114.54 139.50,114.36 140.00,114.64 140.50,114.15 141.00,114.90 141.50,114.20 142.00,114.31 142.50,115.03 143.00,115.22 143.50,114.69 144.00,114.71 144.50,114.56 145.00,114.62 145.50,115.03 146.00,114.59 146.50,114.56 147.00,114.95 147.50,114.67 148.00,115.23 148.50,115.45 149.00,115.43 149.50,115.15 150.00,115.20" fill="none" stroke="#8c8c8c" stroke-width="0.65" stroke-linejoin="round"/>
<polyline points="113.00,115.10 113.50,115.07 114.00,115.58 114.50,114.38 115.00,114.22 115.46,113.58 115.92,111.94 116.38,111.82 116.84,111.27 117.30,110.81 117.87,108.02 118.43,107.12 119.00,105.35 119.47,106.34 119.95,105.60 120.43,103.75 120.90,105.20 121.36,104.57 121.82,103.32 122.28,102.64 122.74,101.09 123.20,100.19 123.67,101.01 124.13,99.78 124.60,99.81 125.07,99.66 125.53,98.97 126.00,99.62 126.46,99.36 126.91,99.98 127.37,99.10 127.83,99.13 128.29,98.63 128.74,98.75 129.20,98.11 129.65,98.24 130.10,100.24 130.55,100.73 131.00,100.91 131.57,101.30 132.13,101.15 132.70,101.64 133.16,102.76 133.62,103.31 134.08,105.75 134.54,105.99 135.00,107.92 135.50,108.16 136.00,110.55 136.50,111.52 137.00,110.96 137.50,112.60 138.00,114.05 138.50,113.14 139.00,114.20 139.50,112.99 140.00,112.31 140.45,113.51 140.91,113.87 141.36,112.86 141.82,112.52 142.27,113.08 142.73,114.44 143.18,114.05 143.64,112.77 144.09,113.08 144.55,112.82 145.00,112.78 145.48,114.43 145.96,113.25 146.43,114.16 146.91,114.04 147.39,113.61 147.87,114.85 148.34,113.71 148.82,114.89 149.30,113.90 149.76,114.55 150.22,114.13 150.68,114.27 151.14,115.74 151.60,115.41 152.06,114.39 152.52,115.61 152.98,114.22 153.43,114.62 153.89,115.59 154.35,115.17 154.81,114.06 155.27,115.92 155.73,114.32 156.19,114.43 156.65,115.52 157.11,114.61 157.57,114.56 158.03,114.11 158.49,114.16 158.95,115.20 159.41,114.51 159.87,115.27 160.32,114.81 160.78,114.99 161.24,116.06 161.70,115.09 162.16,115.29 162.62,115.92 163.08,114.51 163.54,114.46 164.00,115.20" fill="none" stroke="#000" stroke-width="1.61" stroke-linejoin="round"/>
<polyline points="113.00,115.93 113.52,114.36 114.04,115.79 114.56,114.59 115.08,114.17 115.60,114.46 116.06,112.66 116.52,111.91 116.98,111.62 117.44,110.39 117.90,110.58 118.47,108.68 119.03,107.27 119.60,105.70 120.07,105.07 120.55,105.68 121.03,105.60 121.50,103.86 121.96,104.28 122.42,102.58 122.88,102.98 123.34,101.21 123.80,101.35 124.27,100.74 124.73,101.53 125.20,101.04 125.67,99.32 126.13,99.05 126.60,99.61 127.06,98.85 127.51,98.68 127.97,100.07 128.43,99.83 128.89,97.55 129.34,97.34 129.80,98.48 130.25,99.70 130.70,100.07 131.15,100.13 131.60,100.74 132.17,100.83 132.73,101.51 133.30,103.00 133.76,102.32 134.22,104.61 134.68,105.69 135.14,105.43 135.60,107.81 136.10,107.66 136.60,110.65 137.10,111.39 137.60,111.90 138.10,113.39 138.60,114.26 139.10,112.90 139.60,112.54 140.10,113.62 140.60,114.10 141.05,112.47 141.51,113.88 141.96,113.09 142.42,113.80 142.87,113.38 143.33,114.48 143.78,113.69 144.24,114.61 144.69,114.65 145.15,112.82 145.60,114.68 146.08,114.39 146.56,113.12 147.03,114.21 147.51,113.63 147.99,113.24 148.47,113.38 148.94,114.17 149.42,115.43 149.90,113.74 150.35,114.91 150.81,115.57 151.26,114.44 151.72,115.25 152.17,114.99 152.63,115.38 153.08,114.77 153.54,115.91 153.99,114.62 154.45,114.22 154.90,114.03 155.36,114.35 155.81,114.05 156.27,115.91 156.72,114.12 157.18,115.72 157.63,115.58 158.09,114.92 158.54,114.00 159.00,114.36 159.45,116.01 159.91,114.86 160.36,115.70 160.82,114.25 161.27,114.09 161.73,114.81 162.18,114.80 162.64,114.49 163.09,115.48 163.55,115.36 164.00,115.20" fill="none" stroke="#000" stroke-width="1.19" stroke-linejoin="round"/>
<polyline points="118.00,113.16 118.50,112.92 119.00,112.43 119.50,111.20 120.00,110.52 120.50,110.52 121.00,109.88 121.50,110.13 122.00,109.47 122.50,108.84 123.00,108.28 123.50,107.93 124.00,106.70 124.50,106.62 125.00,105.73 125.50,106.27 126.00,104.58 126.50,105.27 127.00,103.85 127.50,104.34 128.00,103.47 128.50,103.19 129.00,103.43 129.50,101.90 130.00,101.59 130.50,102.18 131.00,101.01 131.50,99.83 132.00,100.48 132.50,99.83 133.30,92.66 133.80,96.59 134.30,99.69 134.87,102.27 135.43,105.04 136.00,106.73 136.50,108.98 137.00,109.57 137.50,111.24 138.00,113.20" fill="none" stroke="#666" stroke-width="0.75" stroke-linejoin="round"/>
<polyline points="52.00,159.54 52.50,157.50 53.00,155.00 53.50,146.68 54.00,137.46 54.55,131.01 55.10,124.42 56.00,127.50 56.90,131.05 57.80,137.40 58.30,145.83 58.70,149.49 59.35,152.08 60.00,154.73 60.50,156.16 61.00,156.92 61.50,156.65 62.00,157.31 62.50,157.54 63.00,158.70 63.50,158.63 64.00,158.63 64.50,158.65 65.00,158.56 65.50,158.79 66.00,158.62 66.50,158.04 67.00,158.68 67.50,158.29 68.00,158.58 68.50,158.37 69.00,158.22 69.50,158.15 70.00,158.22 70.50,158.10 71.00,157.89 71.50,158.65 72.00,158.62 72.50,158.82 73.00,158.51 73.50,158.36 74.00,158.57 74.50,157.91 75.00,158.49 75.50,158.24 76.00,157.95 76.50,157.98 77.00,158.32 77.50,158.03 78.00,158.26 78.50,158.41 79.00,158.19 79.50,157.90 80.00,158.29 80.50,158.04 81.00,158.06 81.50,158.05 82.00,158.26 82.50,157.96 83.00,158.61 83.50,158.96 84.00,158.38 84.50,158.76 85.00,159.02 85.50,158.08 86.00,158.21 86.50,158.96 87.00,159.02 87.50,158.83 88.00,158.33 88.50,158.63 89.00,159.15 89.50,159.19 90.00,158.80" fill="none" stroke="#8c8c8c" stroke-width="0.65" stroke-linejoin="round"/>
<polyline points="52.00,158.98 52.48,160.17 52.96,160.01 53.43,160.55 53.91,159.10 54.39,159.01 54.87,159.95 55.34,159.74 55.82,158.95 56.30,159.68 56.75,158.92 57.20,159.54 57.65,158.01 58.10,158.06 58.55,159.30 59.00,158.00 59.46,157.59 59.91,158.50 60.37,157.93 60.83,156.71 61.29,157.34 61.74,157.36 62.20,156.10 62.67,156.78 63.13,155.35 63.60,155.46 64.07,154.60 64.53,154.52 65.00,155.79 65.46,154.17 65.91,154.96 66.37,153.39 66.83,153.31 67.29,153.43 67.74,152.62 68.20,150.99 68.80,151.32 69.40,150.74 70.00,149.14 70.57,148.12 71.13,148.91 71.70,147.33 72.35,146.16 73.00,146.20 73.57,145.71 74.13,146.92 74.70,146.30 75.30,145.81 75.90,147.63 76.50,146.45 76.96,147.14 77.42,146.92 77.88,148.70 78.34,147.70 78.80,148.85 79.35,148.70 79.90,150.26 80.45,151.44 81.00,151.87 81.52,152.11 82.04,152.57 82.56,152.87 83.08,153.60 83.60,152.96 84.08,154.25 84.56,154.25 85.04,156.06 85.52,156.71 86.00,155.40 86.46,155.96 86.92,157.52 87.38,157.65 87.84,156.90 88.30,158.73 88.76,159.35 89.22,158.39 89.69,158.36 90.15,158.94 90.61,159.84 91.08,158.56 91.54,158.76 92.00,158.65 92.50,159.50 93.00,159.11 93.50,158.61 94.00,158.82 94.50,158.02 95.00,158.53 95.50,159.87 96.00,158.98 96.47,158.41 96.93,159.84 97.40,158.71 97.87,158.55 98.33,158.17 98.80,158.46 99.27,158.64 99.73,158.77 100.20,160.18 100.67,158.98 101.13,159.01 101.60,159.82 102.07,160.53 102.53,159.30 103.00,159.80" fill="none" stroke="#000" stroke-width="1.61" stroke-linejoin="round"/>
<polyline points="52.00,159.22 52.49,158.85 52.98,160.07 53.47,159.08 53.96,159.88 54.45,158.77 54.94,160.58 55.43,159.84 55.92,158.94 56.41,158.37 56.90,160.06 57.35,160.02 57.80,158.60 58.25,157.92 58.70,159.70 59.15,159.35 59.60,158.22 60.06,157.21 60.51,158.44 60.97,158.71 61.43,157.00 61.89,156.94 62.34,157.84 62.80,157.36 63.27,157.40 63.73,156.41 64.20,155.20 64.67,156.48 65.13,155.83 65.60,155.62 66.06,154.00 66.51,153.50 66.97,154.58 67.43,154.04 67.89,151.76 68.34,151.29 68.80,150.98 69.40,151.49 70.00,149.91 70.60,149.06 71.17,149.01 71.73,149.17 72.30,147.25 72.95,145.86 73.60,145.49 74.17,145.85 74.73,145.93 75.30,145.65 75.90,145.70 76.50,146.61 77.10,146.67 77.56,146.94 78.02,146.97 78.48,148.35 78.94,149.08 79.40,148.47 79.95,148.67 80.50,150.13 81.05,150.10 81.60,150.98 82.12,151.67 82.64,153.50 83.16,152.01 83.68,153.37 84.20,152.71 84.68,153.98 85.16,155.88 85.64,156.07 86.12,155.73 86.60,155.77 87.06,156.17 87.52,157.20 87.98,157.36 88.44,157.37 88.90,157.26 89.36,159.06 89.82,159.67 90.29,159.71 90.75,158.82 91.21,158.70 91.67,158.19 92.14,160.27 92.60,159.16 93.10,158.27 93.60,160.23 94.10,159.45 94.60,159.59 95.10,159.07 95.60,158.28 96.10,159.54 96.60,159.35 97.06,158.90 97.51,159.93 97.97,158.30 98.43,160.11 98.89,159.34 99.34,158.36 99.80,160.05 100.26,160.18 100.71,160.16 101.17,159.38 101.63,159.82 102.09,159.89 102.54,160.21 103.00,159.80" fill="none" stroke="#000" stroke-width="1.19" stroke-linejoin="round"/>
<polyline points="113.00,160.30 113.50,156.77 114.00,155.05 114.50,147.76 115.00,141.99 115.50,134.28 116.10,130.71 116.70,126.00 117.25,128.19 117.80,130.34 118.30,133.52 118.80,137.63 119.30,142.02 119.80,145.56 120.30,149.54 120.87,151.84 121.43,154.85 122.00,157.20 122.50,157.62 123.00,157.50 123.50,158.76 124.00,158.81 124.50,158.48 125.00,158.69 125.50,158.62 126.00,158.22 126.50,158.71 127.00,158.46 127.50,158.66 128.00,159.01 128.50,158.68 129.00,158.39 129.50,158.85 130.00,158.96 130.50,158.38 131.00,158.84 131.50,157.81 132.00,157.91 132.50,157.91 133.00,158.71 133.50,158.41 134.00,158.41 134.50,157.91 135.00,158.11 135.50,158.50 136.00,157.62 136.50,157.60 137.00,157.50 137.50,157.92 138.00,158.29 138.50,157.95 139.00,157.76 139.50,157.83 140.00,157.45 140.50,158.33 141.00,157.74 141.50,157.66 142.00,157.80 142.50,158.40 143.00,157.90 143.50,158.59 144.00,158.02 144.50,158.19 145.00,157.84 145.50,158.79 146.00,158.72 146.50,158.42 147.00,158.08 147.50,158.54 148.00,158.47 148.50,159.02 149.00,159.16 149.50,159.01 150.00,158.80" fill="none" stroke="#8c8c8c" stroke-width="0.65" stroke-linejoin="round"/>
<polyline points="113.00,159.48 113.50,159.69 114.00,159.48 114.50,159.49 115.00,159.34 115.50,159.86 116.00,158.86 116.50,159.68 117.00,158.15 117.49,158.40 117.97,158.04 118.46,157.15 118.95,158.12 119.44,156.67 119.93,157.35 120.41,157.31 120.90,155.22 121.43,156.22 121.95,155.52 122.47,154.69 123.00,152.69 123.52,153.30 124.04,153.30 124.56,152.12 125.08,151.55 125.60,151.35 126.08,150.83 126.56,151.67 127.04,150.24 127.52,150.02 128.00,150.13 128.48,150.65 128.96,148.92 129.44,148.13 129.92,150.11 130.40,149.58 130.92,149.18 131.44,148.25 131.96,147.28 132.48,146.79 133.00,146.84 133.47,146.99 133.94,145.86 134.41,147.12 134.89,146.98 135.36,145.09 135.83,146.82 136.30,145.78 136.85,147.53 137.40,147.24 137.95,148.74 138.50,148.69 139.00,149.66 139.50,150.00 140.00,149.48 140.50,150.37 141.00,151.17 141.50,151.83 142.00,151.99 142.50,152.64 143.00,153.17 143.47,152.90 143.93,153.04 144.40,153.83 144.87,155.19 145.33,155.13 145.80,155.16 146.35,156.04 146.90,155.16 147.45,155.37 148.00,155.85 148.50,156.31 149.00,156.45 149.50,158.29 150.00,159.38 150.50,157.90 150.95,159.29 151.40,159.93 151.85,159.57 152.30,158.19 152.75,159.37 153.20,158.53 153.65,158.40 154.10,158.06 154.55,159.31 155.00,160.28 155.45,158.40 155.90,158.52 156.35,159.11 156.80,158.32 157.25,159.34 157.70,159.99 158.15,159.38 158.60,158.42 159.05,158.43 159.50,158.84 159.95,159.97 160.40,160.59 160.85,159.63 161.30,158.72 161.75,159.01 162.20,159.50 162.65,158.81 163.10,158.85 163.55,159.62 164.00,159.80" fill="none" stroke="#000" stroke-width="1.61" stroke-linejoin="round"/>
<polyline points="113.00,160.61 113.46,160.00 113.92,160.26 114.38,158.41 114.84,159.97 115.30,160.15 115.76,159.45 116.22,159.41 116.68,158.76 117.14,159.12 117.60,159.51 118.09,159.78 118.57,158.61 119.06,157.87 119.55,157.08 120.04,157.77 120.53,156.23 121.01,155.12 121.50,155.94 122.03,155.35 122.55,155.63 123.07,154.15 123.60,154.26 124.12,153.06 124.64,152.98 125.16,151.54 125.68,152.11 126.20,151.06 126.68,151.16 127.16,150.41 127.64,151.13 128.12,149.88 128.60,149.56 129.08,149.40 129.56,149.73 130.04,148.94 130.52,149.66 131.00,149.30 131.52,148.09 132.04,148.38 132.56,148.24 133.08,146.39 133.60,147.08 134.07,146.55 134.54,146.52 135.01,146.42 135.49,147.60 135.96,146.86 136.43,145.51 136.90,144.64 137.45,147.16 138.00,147.01 138.55,146.89 139.10,148.28 139.60,148.55 140.10,151.25 140.60,149.97 141.10,151.18 141.60,150.64 142.10,152.97 142.60,152.31 143.10,151.34 143.60,153.05 144.07,154.03 144.53,153.40 145.00,153.93 145.47,155.23 145.93,154.26 146.40,154.95 146.95,156.26 147.50,156.22 148.05,156.33 148.60,156.39 149.10,157.49 149.60,158.27 150.10,158.59 150.60,157.67 151.10,158.30 151.55,158.93 152.00,157.93 152.45,159.64 152.90,158.41 153.35,158.52 153.80,158.53 154.25,158.44 154.70,160.05 155.15,158.93 155.60,158.26 156.07,160.08 156.53,160.08 157.00,158.28 157.47,158.50 157.93,158.29 158.40,159.48 158.87,159.85 159.33,158.92 159.80,160.31 160.27,158.73 160.73,159.19 161.20,159.44 161.67,159.48 162.13,159.82 162.60,159.86 163.07,158.92 163.53,158.61 164.00,159.80" fill="none" stroke="#000" stroke-width="1.19" stroke-linejoin="round"/>
<polyline points="52.00,204.74 52.50,205.13 53.00,205.29 53.50,203.94 54.00,204.68 54.50,204.45 55.00,204.24 55.50,203.12 56.00,202.84 56.49,203.36 56.98,203.90 57.46,202.87 57.95,203.20 58.44,202.74 58.92,203.58 59.41,203.64 59.90,202.52 60.36,203.55 60.81,201.79 61.27,203.10 61.72,203.16 62.18,201.79 62.63,202.74 63.09,202.42 63.54,203.08 64.00,201.67 64.47,202.22 64.93,202.78 65.40,202.29 65.87,201.63 66.33,201.16 66.80,202.67 67.27,201.76 67.73,202.66 68.20,201.05 68.67,202.02 69.13,201.77 69.60,201.71 70.07,199.82 70.53,200.22 71.00,199.38 71.52,200.41 72.03,199.44 72.55,200.29 73.07,198.97 73.58,199.45 74.10,199.37 74.58,197.72 75.06,197.80 75.54,198.03 76.02,196.75 76.50,195.94 76.96,195.18 77.42,195.52 77.88,193.84 78.34,193.99 78.80,193.30 79.35,192.30 79.90,190.53 80.45,190.49 81.00,189.96 81.47,187.87 81.93,186.89 82.40,186.94 83.20,180.34 83.80,175.79 84.40,180.31 84.90,185.66 85.40,188.92 85.87,190.81 86.33,192.12 86.80,194.44 87.30,196.12 87.80,196.85 88.30,197.93 88.87,200.75 89.43,201.78 90.00,201.33 90.47,202.82 90.95,203.54 91.43,203.52 91.90,204.62 92.36,205.09 92.81,204.48 93.27,204.17 93.72,203.87 94.18,204.03 94.63,203.90 95.09,203.88 95.54,204.12 96.00,205.32 96.47,204.77 96.93,205.25 97.40,205.46 97.87,205.27 98.33,203.88 98.80,205.48 99.27,203.96 99.73,205.19 100.20,205.32 100.67,204.99 101.13,204.52 101.60,203.93 102.07,203.94 102.53,204.95 103.00,204.70" fill="none" stroke="#000" stroke-width="1.52" stroke-linejoin="round"/>
<polyline points="52.00,204.19 52.46,203.94 52.92,204.30 53.38,203.73 53.84,204.12 54.30,203.45 54.76,204.15 55.22,204.13 55.68,203.60 56.14,204.41 56.60,202.78 57.09,204.51 57.58,203.32 58.06,202.67 58.55,202.98 59.04,202.92 59.52,201.98 60.01,203.22 60.50,202.97 60.96,202.83 61.41,202.86 61.87,203.33 62.32,202.45 62.78,202.52 63.23,203.23 63.69,203.07 64.14,201.61 64.60,201.44 65.07,202.94 65.53,202.33 66.00,201.10 66.47,201.41 66.93,201.59 67.40,201.69 67.87,201.34 68.33,201.38 68.80,201.81 69.27,202.27 69.73,201.60 70.20,201.81 70.67,199.73 71.13,200.03 71.60,200.97 72.12,200.13 72.63,199.36 73.15,198.98 73.67,199.88 74.18,199.92 74.70,198.99 75.18,198.70 75.66,198.17 76.14,197.69 76.62,196.59 77.10,196.82 77.56,195.87 78.02,195.82 78.48,195.18 78.94,193.38 79.40,193.21 79.95,191.98 80.50,190.45 81.05,189.80 81.60,190.14 82.07,187.96 82.53,186.44 83.00,186.10 83.80,180.45 84.40,176.82 85.00,180.88 85.50,185.45 86.00,188.73 86.47,191.81 86.93,192.43 87.40,194.79 87.90,196.50 88.40,197.61 88.90,198.63 89.47,200.25 90.03,201.16 90.60,202.57 91.07,203.61 91.55,202.94 92.03,203.36 92.50,203.77 92.96,204.19 93.41,204.95 93.87,204.03 94.32,204.45 94.78,205.46 95.23,204.03 95.69,203.82 96.14,203.77 96.60,205.17 97.06,203.87 97.51,204.41 97.97,205.04 98.43,204.66 98.89,204.75 99.34,204.90 99.80,203.74 100.26,204.92 100.71,205.01 101.17,205.65 101.63,204.61 102.09,204.75 102.54,203.86 103.00,204.70" fill="none" stroke="#000" stroke-width="1.12" stroke-linejoin="round"/>
<path d="M113.60,205.2 L113.60,200.2 M114.40,205.2 L114.40,201.7 M115.50,205.2 L115.50,201.7 M116.60,205.2 L116.60,201.7 M117.50,205.2 L117.50,200.7 M118.30,205.2 L118.30,202.2 M119.20,205.2 L119.20,202.2 M120.00,205.2 L120.00,201.7 M120.80,205.2 L120.80,199.7 M121.90,205.2 L121.90,200.7 M122.70,205.2 L122.70,199.7 M123.80,205.2 L123.80,201.7 M124.60,205.2 L124.60,199.7 M125.70,205.2 L125.70,202.2 M127.10,205.2 L127.10,202.7 M128.00,205.2 L128.00,200.2 M129.40,205.2 L129.40,200.2 M130.30,205.2 L130.30,200.7 M131.20,205.2 L131.20,200.2 M132.30,205.2 L132.30,200.7 M133.20,205.2 L133.20,200.2 M134.30,205.2 L134.30,202.2 " stroke="#000" stroke-width="0.9" fill="none"/>
<path d="M113,204.89999999999998 L136,204.89999999999998" stroke="#000" stroke-width="1.2"/>
<path d="M134.5,202.2 L135.3,196.7 L137.5,196.7 L137.5,193.89999999999998 L140.7,193.89999999999998 L140.7,189.7 L142.6,189.7 L142.6,186.2 L145.3,186.2 L145.3,191.7 L147.6,191.7 L147.6,196.7 L150.3,196.7 L150.3,201.0 L153,201.0 L153,203.0 L154.5,203.0 L154.5,204.6 L164,204.6 L164,204.6 " fill="none" stroke="#000" stroke-width="1.9"/>
<path d="M142.8,189.7 L143.2,184.7 L143.8,187.2 L144.3,185.2 L144.6,190.2" fill="none" stroke="#777" stroke-width="0.7"/>
<rect x="138" y="202.6" width="11" height="2" fill="#fff"/>
<text x="50.6" y="214" font-size="4.9" text-anchor="middle" fill="#111" stroke="#111" stroke-width="0.12" textLength="4.4" lengthAdjust="spacingAndGlyphs">10</text>
<text x="54.0" y="211.8" font-size="3.4" text-anchor="middle" fill="#111">0</text>
<text x="63.50000000000001" y="214" font-size="4.9" text-anchor="middle" fill="#111" stroke="#111" stroke-width="0.12" textLength="4.4" lengthAdjust="spacingAndGlyphs">10</text>
<text x="66.9" y="211.8" font-size="3.4" text-anchor="middle" fill="#111">1</text>
<text x="76.39999999999999" y="214" font-size="4.9" text-anchor="middle" fill="#111" stroke="#111" stroke-width="0.12" textLength="4.4" lengthAdjust="spacingAndGlyphs">10</text>
<text x="79.8" y="211.8" font-size="3.4" text-anchor="middle" fill="#111">2</text>
<text x="89.3" y="214" font-size="4.9" text-anchor="middle" fill="#111" stroke="#111" stroke-width="0.12" textLength="4.4" lengthAdjust="spacingAndGlyphs">10</text>
<text x="92.7" y="211.8" font-size="3.4" text-anchor="middle" fill="#111">3</text>
<text x="102.19999999999999" y="214" font-size="4.9" text-anchor="middle" fill="#111" stroke="#111" stroke-width="0.12" textLength="4.4" lengthAdjust="spacingAndGlyphs">10</text>
<text x="105.6" y="211.8" font-size="3.4" text-anchor="middle" fill="#111">4</text>
<text x="112.19999999999999" y="214" font-size="4.9" text-anchor="middle" fill="#111" stroke="#111" stroke-width="0.12" textLength="4.4" lengthAdjust="spacingAndGlyphs">10</text>
<text x="115.6" y="211.8" font-size="3.4" text-anchor="middle" fill="#111">0</text>
<text x="125.1" y="214" font-size="4.9" text-anchor="middle" fill="#111" stroke="#111" stroke-width="0.12" textLength="4.4" lengthAdjust="spacingAndGlyphs">10</text>
<text x="128.5" y="211.8" font-size="3.4" text-anchor="middle" fill="#111">1</text>
<text x="138.0" y="214" font-size="4.9" text-anchor="middle" fill="#111" stroke="#111" stroke-width="0.12" textLength="4.4" lengthAdjust="spacingAndGlyphs">10</text>
<text x="141.4" y="211.8" font-size="3.4" text-anchor="middle" fill="#111">2</text>
<text x="150.9" y="214" font-size="4.9" text-anchor="middle" fill="#111" stroke="#111" stroke-width="0.12" textLength="4.4" lengthAdjust="spacingAndGlyphs">10</text>
<text x="154.3" y="211.8" font-size="3.4" text-anchor="middle" fill="#111">3</text>
<text x="163.79999999999998" y="214" font-size="4.9" text-anchor="middle" fill="#111" stroke="#111" stroke-width="0.12" textLength="4.4" lengthAdjust="spacingAndGlyphs">10</text>
<text x="167.2" y="211.8" font-size="3.4" text-anchor="middle" fill="#111">4</text>
<rect x="30.5" y="256.5" width="103.0" height="93.0" fill="none" stroke="#c8c8c8" stroke-width="1"/>
<line x1="30.5" y1="256.5" x2="30.5" y2="350.5" stroke="#999" stroke-width="1" />
<line x1="29.0" y1="349.5" x2="30.5" y2="349.5" stroke="#999" stroke-width="0.7" />
<text x="28.3" y="351.2" font-size="4.8" font-weight="normal" text-anchor="end" fill="#555" stroke="#555" stroke-width="0.05" >0</text>
<line x1="29.0" y1="337.9375" x2="30.5" y2="337.9375" stroke="#999" stroke-width="0.7" />
<text x="28.3" y="339.6375" font-size="4.8" font-weight="normal" text-anchor="end" fill="#555" stroke="#555" stroke-width="0.05" >20</text>
<line x1="29.0" y1="326.375" x2="30.5" y2="326.375" stroke="#999" stroke-width="0.7" />
<text x="28.3" y="328.075" font-size="4.8" font-weight="normal" text-anchor="end" fill="#555" stroke="#555" stroke-width="0.05" >40</text>
<line x1="29.0" y1="314.8125" x2="30.5" y2="314.8125" stroke="#999" stroke-width="0.7" />
<text x="28.3" y="316.5125" font-size="4.8" font-weight="normal" text-anchor="end" fill="#555" stroke="#555" stroke-width="0.05" >60</text>
<line x1="29.0" y1="303.25" x2="30.5" y2="303.25" stroke="#999" stroke-width="0.7" />
<text x="28.3" y="304.95" font-size="4.8" font-weight="normal" text-anchor="end" fill="#555" stroke="#555" stroke-width="0.05" >80</text>
<line x1="29.0" y1="291.6875" x2="30.5" y2="291.6875" stroke="#999" stroke-width="0.7" />
<text x="28.3" y="293.3875" font-size="4.8" font-weight="normal" text-anchor="end" fill="#555" stroke="#555" stroke-width="0.05" >100</text>
<line x1="29.0" y1="280.125" x2="30.5" y2="280.125" stroke="#999" stroke-width="0.7" />
<text x="28.3" y="281.825" font-size="4.8" font-weight="normal" text-anchor="end" fill="#555" stroke="#555" stroke-width="0.05" >120</text>
<line x1="29.0" y1="268.5625" x2="30.5" y2="268.5625" stroke="#999" stroke-width="0.7" />
<text x="28.3" y="270.2625" font-size="4.8" font-weight="normal" text-anchor="end" fill="#555" stroke="#555" stroke-width="0.05" >140</text>
<line x1="29.0" y1="257.0" x2="30.5" y2="257.0" stroke="#999" stroke-width="0.7" />
<text x="28.3" y="258.7" font-size="4.8" font-weight="normal" text-anchor="end" fill="#555" stroke="#555" stroke-width="0.05" >160</text>
<line x1="30.5" y1="291.5" x2="133.5" y2="291.5" stroke="#333" stroke-width="0.8" stroke-dasharray="1 1.5"/>
<line x1="42.75" y1="306" x2="42.75" y2="310.3" stroke="#888" stroke-width="0.7" />
<line x1="41.75" y1="306" x2="43.75" y2="306" stroke="#888" stroke-width="0.7" />
<rect x="38.0" y="310.7" width="9.499999999999996" height="38.79999999999999" fill="#6b6b6b" stroke="#555" stroke-width="0.8"/>
<line x1="52.9" y1="316.3" x2="52.9" y2="319.4" stroke="#888" stroke-width="0.7" />
<line x1="51.9" y1="316.3" x2="53.9" y2="316.3" stroke="#888" stroke-width="0.7" />
<rect x="48.3" y="319.79999999999995" width="9.2" height="29.700000000000024" fill="#e6e6e6" stroke="#999" stroke-width="0.8"/>
<line x1="77.15" y1="302.5" x2="77.15" y2="306.5" stroke="#888" stroke-width="0.7" />
<line x1="76.15" y1="302.5" x2="78.15" y2="302.5" stroke="#888" stroke-width="0.7" />
<rect x="72.4" y="306.9" width="9.499999999999996" height="42.6" fill="#6b6b6b" stroke="#555" stroke-width="0.8"/>
<line x1="87.44999999999999" y1="303" x2="87.44999999999999" y2="310.9" stroke="#888" stroke-width="0.7" />
<line x1="86.44999999999999" y1="303" x2="88.44999999999999" y2="303" stroke="#888" stroke-width="0.7" />
<rect x="82.7" y="311.29999999999995" width="9.499999999999996" height="38.200000000000024" fill="#e6e6e6" stroke="#999" stroke-width="0.8"/>
<line x1="111.95" y1="271.2" x2="111.95" y2="285" stroke="#888" stroke-width="0.7" />
<line x1="110.95" y1="271.2" x2="112.95" y2="271.2" stroke="#888" stroke-width="0.7" />
<rect x="107.4" y="285.4" width="9.100000000000005" height="64.1" fill="#6b6b6b" stroke="#555" stroke-width="0.8"/>
<line x1="121.75" y1="283" x2="121.75" y2="291" stroke="#888" stroke-width="0.7" />
<line x1="120.75" y1="283" x2="122.75" y2="283" stroke="#888" stroke-width="0.7" />
<rect x="117.30000000000001" y="291.4" width="8.899999999999988" height="58.1" fill="#e6e6e6" stroke="#999" stroke-width="0.8"/>
<rect x="34.8" y="261.6" width="51.3" height="17" fill="#fff" stroke="#c8c8c8" stroke-width="0.8"/>
<rect x="36.2" y="264.8" width="2.7" height="3" fill="#6b6b6b" stroke="#555" stroke-width="0.5"/>
<rect x="36.2" y="272.8" width="2.7" height="3" fill="#f4f4f4" stroke="#888" stroke-width="0.5"/>
<text x="40.2" y="268.3" font-size="5.6" font-weight="bold" text-anchor="start" fill="#000" textLength="36" lengthAdjust="spacingAndGlyphs" stroke="#000" stroke-width="0.12" >CD9 siRNA</text>
<text x="40.2" y="276.8" font-size="5.6" font-weight="bold" text-anchor="start" fill="#000" textLength="44.8" lengthAdjust="spacingAndGlyphs" stroke="#000" stroke-width="0.12" >CD151 siRNA</text>
<text x="47.6" y="357.4" font-size="6.1" font-weight="bold" text-anchor="middle" fill="#000" textLength="23.5" lengthAdjust="spacingAndGlyphs" stroke="#000" stroke-width="0.25" >ICAM-1</text>
<text x="81.9" y="357.4" font-size="6.1" font-weight="bold" text-anchor="middle" fill="#000" textLength="25" lengthAdjust="spacingAndGlyphs" stroke="#000" stroke-width="0.25" >VCAM-1</text>
<text x="116.6" y="357.4" font-size="6.1" font-weight="bold" text-anchor="middle" fill="#000" textLength="35" lengthAdjust="spacingAndGlyphs" stroke="#000" stroke-width="0.25" >E-Selectin</text>
<text transform="translate(4.9,301.5) rotate(-90)" font-size="5.2" font-weight="bold" text-anchor="middle" fill="#000" stroke="#000" stroke-width="0.05" textLength="112" lengthAdjust="spacingAndGlyphs">% mean fluorescence intensity relative</text>
<text transform="translate(15.1,301.5) rotate(-90)" font-size="5.2" font-weight="bold" text-anchor="middle" fill="#000" stroke="#000" stroke-width="0.05" textLength="111" lengthAdjust="spacingAndGlyphs">to negative control siRNA treated cells</text>
<rect x="201.4" y="19.3" width="115.20000000000002" height="92.10000000000001" fill="none" stroke="#999" stroke-width="0.9"/>
<line x1="199.9" y1="111.4" x2="201.4" y2="111.4" stroke="#999" stroke-width="0.7" />
<text x="199.9" y="113.0" font-size="4.7" font-weight="normal" text-anchor="end" fill="#555" stroke="#555" stroke-width="0.1" >0</text>
<line x1="199.9" y1="96.05" x2="201.4" y2="96.05" stroke="#999" stroke-width="0.7" />
<text x="199.9" y="97.64999999999999" font-size="4.7" font-weight="normal" text-anchor="end" fill="#555" stroke="#555" stroke-width="0.1" >0,2</text>
<line x1="199.9" y1="80.7" x2="201.4" y2="80.7" stroke="#999" stroke-width="0.7" />
<text x="199.9" y="82.3" font-size="4.7" font-weight="normal" text-anchor="end" fill="#555" stroke="#555" stroke-width="0.1" >0,4</text>
<line x1="199.9" y1="65.35" x2="201.4" y2="65.35" stroke="#999" stroke-width="0.7" />
<text x="199.9" y="66.94999999999999" font-size="4.7" font-weight="normal" text-anchor="end" fill="#555" stroke="#555" stroke-width="0.1" >0,6</text>
<line x1="199.9" y1="49.99999999999999" x2="201.4" y2="49.99999999999999" stroke="#999" stroke-width="0.7" />
<text x="199.9" y="51.599999999999994" font-size="4.7" font-weight="normal" text-anchor="end" fill="#555" stroke="#555" stroke-width="0.1" >0,8</text>
<line x1="199.9" y1="34.64999999999999" x2="201.4" y2="34.64999999999999" stroke="#999" stroke-width="0.7" />
<text x="199.9" y="36.24999999999999" font-size="4.7" font-weight="normal" text-anchor="end" fill="#555" stroke="#555" stroke-width="0.1" >1</text>
<line x1="199.9" y1="19.29999999999997" x2="201.4" y2="19.29999999999997" stroke="#999" stroke-width="0.7" />
<text x="199.9" y="20.89999999999997" font-size="4.7" font-weight="normal" text-anchor="end" fill="#555" stroke="#555" stroke-width="0.1" >1,2</text>
<line x1="220.75" y1="23.5" x2="220.75" y2="34.8" stroke="#aaa" stroke-width="0.8" />
<line x1="219.75" y1="23.5" x2="221.75" y2="23.5" stroke="#aaa" stroke-width="0.8" />
<rect x="213.1" y="34.8" width="15.300000000000011" height="76.60000000000001" fill="#000" stroke="none" stroke-width="0"/>
<line x1="259.20000000000005" y1="24" x2="259.20000000000005" y2="40.6" stroke="#aaa" stroke-width="0.8" />
<line x1="258.20000000000005" y1="24" x2="260.20000000000005" y2="24" stroke="#aaa" stroke-width="0.8" />
<rect x="251.3" y="40.6" width="15.800000000000011" height="70.80000000000001" fill="#000" stroke="none" stroke-width="0"/>
<line x1="297.25" y1="24.3" x2="297.25" y2="39.2" stroke="#aaa" stroke-width="0.8" />
<line x1="296.25" y1="24.3" x2="298.25" y2="24.3" stroke="#aaa" stroke-width="0.8" />
<rect x="289.5" y="39.2" width="15.5" height="72.2" fill="#000" stroke="none" stroke-width="0"/>
<text x="221.2" y="119" font-size="5.9" font-weight="bold" text-anchor="middle" fill="#000" textLength="28" lengthAdjust="spacingAndGlyphs" stroke="#000" stroke-width="0.3" >negative</text>
<text x="221.2" y="125.8" font-size="5.9" font-weight="bold" text-anchor="middle" fill="#000" textLength="19.5" lengthAdjust="spacingAndGlyphs" stroke="#000" stroke-width="0.3" >siRNA</text>
<text x="259.2" y="119" font-size="5.9" font-weight="bold" text-anchor="middle" fill="#000" textLength="13" lengthAdjust="spacingAndGlyphs" stroke="#000" stroke-width="0.3" >CD9</text>
<text x="259.2" y="125.8" font-size="5.9" font-weight="bold" text-anchor="middle" fill="#000" textLength="19.5" lengthAdjust="spacingAndGlyphs" stroke="#000" stroke-width="0.3" >siRNA</text>
<text x="297.3" y="119" font-size="5.9" font-weight="bold" text-anchor="middle" fill="#000" textLength="21" lengthAdjust="spacingAndGlyphs" stroke="#000" stroke-width="0.3" >CD151</text>
<text x="297.3" y="125.8" font-size="5.9" font-weight="bold" text-anchor="middle" fill="#000" textLength="19.5" lengthAdjust="spacingAndGlyphs" stroke="#000" stroke-width="0.3" >siRNA</text>
<text transform="translate(187.9,61.8) rotate(-90)" font-size="5.3" font-weight="bold" text-anchor="middle" fill="#000" stroke="#000" stroke-width="0.12" textLength="71.4" lengthAdjust="spacingAndGlyphs">folds versus negative oligo</text>
<rect x="172.6" y="254.3" width="111.4" height="94.69999999999999" fill="none" stroke="#bbb" stroke-width="1.4"/>
<line x1="171.1" y1="349.0" x2="172.6" y2="349.0" stroke="#999" stroke-width="0.7" />
<text x="171" y="351.0" font-size="4.4" font-weight="normal" text-anchor="end" fill="#555" stroke="#555" stroke-width="0.1" >0</text>
<line x1="171.1" y1="337.1625" x2="172.6" y2="337.1625" stroke="#999" stroke-width="0.7" />
<text x="171" y="339.1625" font-size="4.4" font-weight="normal" text-anchor="end" fill="#555" stroke="#555" stroke-width="0.1" >2</text>
<line x1="171.1" y1="325.325" x2="172.6" y2="325.325" stroke="#999" stroke-width="0.7" />
<text x="171" y="327.325" font-size="4.4" font-weight="normal" text-anchor="end" fill="#555" stroke="#555" stroke-width="0.1" >4</text>
<line x1="171.1" y1="313.4875" x2="172.6" y2="313.4875" stroke="#999" stroke-width="0.7" />
<text x="171" y="315.4875" font-size="4.4" font-weight="normal" text-anchor="end" fill="#555" stroke="#555" stroke-width="0.1" >6</text>
<line x1="171.1" y1="301.65" x2="172.6" y2="301.65" stroke="#999" stroke-width="0.7" />
<text x="171" y="303.65" font-size="4.4" font-weight="normal" text-anchor="end" fill="#555" stroke="#555" stroke-width="0.1" >8</text>
<line x1="171.1" y1="289.8125" x2="172.6" y2="289.8125" stroke="#999" stroke-width="0.7" />
<text x="171" y="291.8125" font-size="4.4" font-weight="normal" text-anchor="end" fill="#555" stroke="#555" stroke-width="0.1" >10</text>
<line x1="171.1" y1="277.975" x2="172.6" y2="277.975" stroke="#999" stroke-width="0.7" />
<text x="171" y="279.975" font-size="4.4" font-weight="normal" text-anchor="end" fill="#555" stroke="#555" stroke-width="0.1" >12</text>
<line x1="171.1" y1="266.13750000000005" x2="172.6" y2="266.13750000000005" stroke="#999" stroke-width="0.7" />
<text x="171" y="268.13750000000005" font-size="4.4" font-weight="normal" text-anchor="end" fill="#555" stroke="#555" stroke-width="0.1" >14</text>
<line x1="171.1" y1="254.3" x2="172.6" y2="254.3" stroke="#999" stroke-width="0.7" />
<text x="171" y="256.3" font-size="4.4" font-weight="normal" text-anchor="end" fill="#555" stroke="#555" stroke-width="0.1" >16</text>
<line x1="191.4" y1="269" x2="191.4" y2="275.6" stroke="#555" stroke-width="0.7" />
<line x1="190.4" y1="269" x2="192.4" y2="269" stroke="#555" stroke-width="0.7" />
<rect x="180" y="275.6" width="22.80000000000001" height="73.39999999999998" fill="#333" stroke="none" stroke-width="0"/>
<line x1="228.4" y1="329.5" x2="228.4" y2="330.7" stroke="#555" stroke-width="0.7" />
<line x1="227.4" y1="329.5" x2="229.4" y2="329.5" stroke="#555" stroke-width="0.7" />
<rect x="216.8" y="330.7" width="23.19999999999999" height="18.30000000000001" fill="#333" stroke="none" stroke-width="0"/>
<line x1="265.15" y1="300.5" x2="265.15" y2="305.6" stroke="#555" stroke-width="0.7" />
<line x1="264.15" y1="300.5" x2="266.15" y2="300.5" stroke="#555" stroke-width="0.7" />
<rect x="253.5" y="305.6" width="23.30000000000001" height="43.39999999999998" fill="#333" stroke="none" stroke-width="0"/>
<text x="228.4" y="327.8" font-size="8" font-weight="bold" text-anchor="middle" fill="#000" stroke="#000" stroke-width="0.3" >**</text>
<text x="265.1" y="299.8" font-size="8" font-weight="bold" text-anchor="middle" fill="#000" stroke="#000" stroke-width="0.3" >**</text>
<text x="191.5" y="358.1" font-size="4.9" font-weight="bold" text-anchor="middle" fill="#000" textLength="24.2" lengthAdjust="spacingAndGlyphs" stroke="#000" stroke-width="0.18" >negative</text>
<text x="191.7" y="364.1" font-size="4.9" font-weight="bold" text-anchor="middle" fill="#000" textLength="16.6" lengthAdjust="spacingAndGlyphs" stroke="#000" stroke-width="0.18" >siRNA</text>
<text x="228.3" y="358.1" font-size="4.9" font-weight="bold" text-anchor="middle" fill="#000" textLength="29.2" lengthAdjust="spacingAndGlyphs" stroke="#000" stroke-width="0.18" >CD9 siRNA</text>
<text x="265.4" y="358.1" font-size="4.9" font-weight="bold" text-anchor="middle" fill="#000" textLength="17.8" lengthAdjust="spacingAndGlyphs" stroke="#000" stroke-width="0.18" >CD151</text>
<text x="265.5" y="364.1" font-size="4.9" font-weight="bold" text-anchor="middle" fill="#000" textLength="15.7" lengthAdjust="spacingAndGlyphs" stroke="#000" stroke-width="0.18" >siRNA</text>
<text transform="translate(156.9,302.4) rotate(-90)" font-size="7.0" font-weight="bold" text-anchor="middle" fill="#000" stroke="#000" stroke-width="0.15" textLength="111.6" lengthAdjust="spacingAndGlyphs">% lymphocytes transmigrated</text>
<line x1="360.5" y1="22.7" x2="360.5" y2="133" stroke="#999" stroke-width="1" />
<line x1="360.5" y1="133" x2="516.3" y2="133" stroke="#999" stroke-width="1" />
<line x1="359.0" y1="132.79" x2="360.5" y2="132.79" stroke="#999" stroke-width="0.7" />
<text x="358.2" y="135.19" font-size="6.5" font-weight="bold" text-anchor="end" fill="#000" textLength="8.6" lengthAdjust="spacingAndGlyphs" stroke="#000" stroke-width="0.25" >30</text>
<line x1="359.0" y1="119.12" x2="360.5" y2="119.12" stroke="#999" stroke-width="0.7" />
<text x="358.2" y="121.52000000000001" font-size="6.5" font-weight="bold" text-anchor="end" fill="#000" textLength="8.6" lengthAdjust="spacingAndGlyphs" stroke="#000" stroke-width="0.25" >40</text>
<line x1="359.0" y1="105.44999999999999" x2="360.5" y2="105.44999999999999" stroke="#999" stroke-width="0.7" />
<text x="358.2" y="107.85" font-size="6.5" font-weight="bold" text-anchor="end" fill="#000" textLength="8.6" lengthAdjust="spacingAndGlyphs" stroke="#000" stroke-width="0.25" >50</text>
<line x1="359.0" y1="91.78" x2="360.5" y2="91.78" stroke="#999" stroke-width="0.7" />
<text x="358.2" y="94.18" font-size="6.5" font-weight="bold" text-anchor="end" fill="#000" textLength="8.6" lengthAdjust="spacingAndGlyphs" stroke="#000" stroke-width="0.25" >60</text>
<line x1="359.0" y1="78.11" x2="360.5" y2="78.11" stroke="#999" stroke-width="0.7" />
<text x="358.2" y="80.51" font-size="6.5" font-weight="bold" text-anchor="end" fill="#000" textLength="8.6" lengthAdjust="spacingAndGlyphs" stroke="#000" stroke-width="0.25" >70</text>
<line x1="359.0" y1="64.44" x2="360.5" y2="64.44" stroke="#999" stroke-width="0.7" />
<text x="358.2" y="66.84" font-size="6.5" font-weight="bold" text-anchor="end" fill="#000" textLength="8.6" lengthAdjust="spacingAndGlyphs" stroke="#000" stroke-width="0.25" >80</text>
<line x1="359.0" y1="50.77" x2="360.5" y2="50.77" stroke="#999" stroke-width="0.7" />
<text x="358.2" y="53.17" font-size="6.5" font-weight="bold" text-anchor="end" fill="#000" textLength="8.6" lengthAdjust="spacingAndGlyphs" stroke="#000" stroke-width="0.25" >90</text>
<line x1="359.0" y1="37.1" x2="360.5" y2="37.1" stroke="#999" stroke-width="0.7" />
<text x="358.2" y="39.5" font-size="6.5" font-weight="bold" text-anchor="end" fill="#000" textLength="12.9" lengthAdjust="spacingAndGlyphs" stroke="#000" stroke-width="0.25" >100</text>
<line x1="359.0" y1="23.43" x2="360.5" y2="23.43" stroke="#999" stroke-width="0.7" />
<text x="358.2" y="25.83" font-size="6.5" font-weight="bold" text-anchor="end" fill="#000" textLength="12.9" lengthAdjust="spacingAndGlyphs" stroke="#000" stroke-width="0.25" >110</text>
<line x1="384.5" y1="133" x2="384.5" y2="134.5" stroke="#999" stroke-width="0.7" />
<line x1="428.5" y1="133" x2="428.5" y2="134.5" stroke="#999" stroke-width="0.7" />
<line x1="472.7" y1="133" x2="472.7" y2="134.5" stroke="#999" stroke-width="0.7" />
<text x="362.4" y="142.2" font-size="6.5" font-weight="bold" text-anchor="middle" fill="#000" textLength="4.3" lengthAdjust="spacingAndGlyphs" stroke="#000" stroke-width="0.25" >2</text>
<text x="406.5" y="142.2" font-size="6.5" font-weight="bold" text-anchor="middle" fill="#000" textLength="4.3" lengthAdjust="spacingAndGlyphs" stroke="#000" stroke-width="0.25" >5</text>
<text x="450.6" y="142.2" font-size="6.5" font-weight="bold" text-anchor="middle" fill="#000" textLength="8.8" lengthAdjust="spacingAndGlyphs" stroke="#000" stroke-width="0.25" >10</text>
<text x="494.7" y="142.2" font-size="6.5" font-weight="bold" text-anchor="middle" fill="#000" textLength="8.8" lengthAdjust="spacingAndGlyphs" stroke="#000" stroke-width="0.25" >15</text>
<text x="427.8" y="151.8" font-size="8.2" font-weight="bold" text-anchor="middle" fill="#000" textLength="73.6" lengthAdjust="spacingAndGlyphs" stroke="#000" stroke-width="0.25" >flow (dynes/cm<tspan font-size="5.2" dy="-2.6">2</tspan><tspan dy="2.6">)</tspan></text>
<text transform="translate(340.4,77.4) rotate(-90)" font-size="7.8" font-weight="bold" text-anchor="middle" fill="#000" stroke="#000" stroke-width="0.2" textLength="67" lengthAdjust="spacingAndGlyphs">% adhered cells</text>
<polyline points="362.4,37.1 406.5,45.1 450.6,59.6 494.7,76.3" fill="none" stroke="#000" stroke-width="0.95"/>
<polyline points="362.4,37.1 406.5,61.5 450.6,84.9 494.7,101.1" fill="none" stroke="#000" stroke-width="0.95"/>
<polyline points="362.4,37.1 406.5,68.5 450.6,99.8 494.7,115.8" fill="none" stroke="#000" stroke-width="0.95"/>
<line x1="406.5" y1="58.5" x2="406.5" y2="64.5" stroke="#666" stroke-width="0.6" />
<line x1="405.5" y1="58.5" x2="407.5" y2="58.5" stroke="#666" stroke-width="0.6" />
<line x1="405.5" y1="64.5" x2="407.5" y2="64.5" stroke="#666" stroke-width="0.6" />
<line x1="494.7" y1="73.3" x2="494.7" y2="79.3" stroke="#666" stroke-width="0.6" />
<line x1="493.7" y1="73.3" x2="495.7" y2="73.3" stroke="#666" stroke-width="0.6" />
<line x1="493.7" y1="79.3" x2="495.7" y2="79.3" stroke="#666" stroke-width="0.6" />
<line x1="494.7" y1="98.1" x2="494.7" y2="104.1" stroke="#666" stroke-width="0.6" />
<line x1="493.7" y1="98.1" x2="495.7" y2="98.1" stroke="#666" stroke-width="0.6" />
<line x1="493.7" y1="104.1" x2="495.7" y2="104.1" stroke="#666" stroke-width="0.6" />
<line x1="494.7" y1="113.3" x2="494.7" y2="118.3" stroke="#666" stroke-width="0.6" />
<line x1="493.7" y1="113.3" x2="495.7" y2="113.3" stroke="#666" stroke-width="0.6" />
<line x1="493.7" y1="118.3" x2="495.7" y2="118.3" stroke="#666" stroke-width="0.6" />
<line x1="406.5" y1="43.6" x2="406.5" y2="46.6" stroke="#666" stroke-width="0.6" />
<line x1="405.5" y1="43.6" x2="407.5" y2="43.6" stroke="#666" stroke-width="0.6" />
<line x1="405.5" y1="46.6" x2="407.5" y2="46.6" stroke="#666" stroke-width="0.6" />
<line x1="450.6" y1="58.4" x2="450.6" y2="60.800000000000004" stroke="#666" stroke-width="0.6" />
<line x1="449.6" y1="58.4" x2="451.6" y2="58.4" stroke="#666" stroke-width="0.6" />
<line x1="449.6" y1="60.800000000000004" x2="451.6" y2="60.800000000000004" stroke="#666" stroke-width="0.6" />
<line x1="450.6" y1="83.4" x2="450.6" y2="86.4" stroke="#666" stroke-width="0.6" />
<line x1="449.6" y1="83.4" x2="451.6" y2="83.4" stroke="#666" stroke-width="0.6" />
<line x1="449.6" y1="86.4" x2="451.6" y2="86.4" stroke="#666" stroke-width="0.6" />
<line x1="406.5" y1="66.5" x2="406.5" y2="70.5" stroke="#666" stroke-width="0.6" />
<line x1="405.5" y1="66.5" x2="407.5" y2="66.5" stroke="#666" stroke-width="0.6" />
<line x1="405.5" y1="70.5" x2="407.5" y2="70.5" stroke="#666" stroke-width="0.6" />
<rect x="360.59999999999997" y="35.300000000000004" width="3.6" height="3.6" fill="#000" stroke="none" stroke-width="0"/>
<rect x="404.7" y="43.300000000000004" width="3.6" height="3.6" fill="#000" stroke="none" stroke-width="0"/>
<rect x="448.8" y="57.800000000000004" width="3.6" height="3.6" fill="#000" stroke="none" stroke-width="0"/>
<rect x="492.9" y="74.5" width="3.6" height="3.6" fill="#000" stroke="none" stroke-width="0"/>
<path d="M406.5,59.3 L408.5,63.0 L404.5,63.0 Z" fill="#000"/>
<path d="M450.6,82.7 L452.6,86.4 L448.6,86.4 Z" fill="#000"/>
<path d="M494.7,98.89999999999999 L496.7,102.6 L492.7,102.6 Z" fill="#000"/>
<path d="M404.8,66.8 L408.2,70.2 M408.2,66.8 L404.8,70.2" stroke="#000" stroke-width="0.6"/>
<path d="M448.90000000000003,98.1 L452.3,101.5 M452.3,98.1 L448.90000000000003,101.5" stroke="#000" stroke-width="0.6"/>
<path d="M493.0,114.1 L496.4,117.5 M496.4,114.1 L493.0,117.5" stroke="#000" stroke-width="0.6"/>
<text x="406.5" y="76.6" font-size="7.5" font-weight="bold" text-anchor="middle" fill="#000" stroke="#000" stroke-width="0.3" >*</text>
<text x="450.6" y="81.3" font-size="7.5" font-weight="bold" text-anchor="middle" fill="#000" stroke="#000" stroke-width="0.3" >**</text>
<text x="450.6" y="107.5" font-size="7.5" font-weight="bold" text-anchor="middle" fill="#000" stroke="#000" stroke-width="0.3" >**</text>
<text x="494.7" y="97.9" font-size="7.5" font-weight="bold" text-anchor="middle" fill="#000" stroke="#000" stroke-width="0.3" >*</text>
<text x="494.7" y="125.6" font-size="7.5" font-weight="bold" text-anchor="middle" fill="#000" stroke="#000" stroke-width="0.3" >**</text>
<rect x="431.3" y="17.7" width="81.7" height="30.8" fill="#fff" stroke="#999" stroke-width="1"/>
<line x1="433.8" y1="23.8" x2="447" y2="23.8" stroke="#000" stroke-width="1.3" />
<rect x="438.3" y="21.8" width="4" height="4" fill="#000" stroke="none" stroke-width="0"/>
<text x="449" y="25.900000000000002" font-size="7.4" font-weight="bold" text-anchor="start" fill="#000" textLength="62.5" lengthAdjust="spacingAndGlyphs" stroke="#000" stroke-width="0.3" >negative siRNA</text>
<line x1="433.8" y1="33.8" x2="447" y2="33.8" stroke="#000" stroke-width="1.3" />
<path d="M440.3,31.199999999999996 L442.7,35.5 L437.90000000000003,35.5 Z" fill="#000"/>
<text x="449" y="35.9" font-size="7.4" font-weight="bold" text-anchor="start" fill="#000" textLength="43" lengthAdjust="spacingAndGlyphs" stroke="#000" stroke-width="0.3" >CD9 siRNA</text>
<line x1="433.8" y1="43.8" x2="447" y2="43.8" stroke="#000" stroke-width="1.3" />
<path d="M438.3,41.599999999999994 L442.3,46.0 M442.3,41.599999999999994 L438.3,46.0" stroke="#000" stroke-width="0.6"/>
<text x="449" y="45.9" font-size="7.4" font-weight="bold" text-anchor="start" fill="#000" textLength="53.7" lengthAdjust="spacingAndGlyphs" stroke="#000" stroke-width="0.3" >CD151 siRNA</text>
<rect x="318.7" y="247" width="198.8" height="123.39999999999998" fill="none" stroke="#bbb" stroke-width="1.3"/>
<line x1="517.4" y1="247" x2="517.4" y2="370.4" stroke="#bbb" stroke-width="1.8" />
<line x1="318.7" y1="247" x2="318.7" y2="371.4" stroke="#999" stroke-width="1" />
<line x1="318.7" y1="370.4" x2="517.5" y2="370.4" stroke="#999" stroke-width="1" />
<line x1="317.2" y1="370.4" x2="318.7" y2="370.4" stroke="#999" stroke-width="0.7" />
<text x="314.9" y="372.29999999999995" font-size="5.4" font-weight="normal" text-anchor="end" fill="#222" stroke="#222" stroke-width="0.12" >0</text>
<line x1="317.2" y1="352.77142857142854" x2="318.7" y2="352.77142857142854" stroke="#999" stroke-width="0.7" />
<text x="314.9" y="354.6714285714285" font-size="5.4" font-weight="normal" text-anchor="end" fill="#222" stroke="#222" stroke-width="0.12" >5</text>
<line x1="317.2" y1="335.1428571428571" x2="318.7" y2="335.1428571428571" stroke="#999" stroke-width="0.7" />
<text x="314.9" y="337.0428571428571" font-size="5.4" font-weight="normal" text-anchor="end" fill="#222" stroke="#222" stroke-width="0.12" >10</text>
<line x1="317.2" y1="317.51428571428573" x2="318.7" y2="317.51428571428573" stroke="#999" stroke-width="0.7" />
<text x="314.9" y="319.4142857142857" font-size="5.4" font-weight="normal" text-anchor="end" fill="#222" stroke="#222" stroke-width="0.12" >15</text>
<line x1="317.2" y1="299.88571428571424" x2="318.7" y2="299.88571428571424" stroke="#999" stroke-width="0.7" />
<text x="314.9" y="301.7857142857142" font-size="5.4" font-weight="normal" text-anchor="end" fill="#222" stroke="#222" stroke-width="0.12" >20</text>
<line x1="317.2" y1="282.25714285714287" x2="318.7" y2="282.25714285714287" stroke="#999" stroke-width="0.7" />
<text x="314.9" y="284.15714285714284" font-size="5.4" font-weight="normal" text-anchor="end" fill="#222" stroke="#222" stroke-width="0.12" >25</text>
<line x1="317.2" y1="264.62857142857143" x2="318.7" y2="264.62857142857143" stroke="#999" stroke-width="0.7" />
<text x="314.9" y="266.5285714285714" font-size="5.4" font-weight="normal" text-anchor="end" fill="#222" stroke="#222" stroke-width="0.12" >30</text>
<line x1="317.2" y1="247.0" x2="318.7" y2="247.0" stroke="#999" stroke-width="0.7" />
<text x="314.9" y="248.9" font-size="5.4" font-weight="normal" text-anchor="end" fill="#222" stroke="#222" stroke-width="0.12" >35</text>
<line x1="333.5" y1="361.5857142857143" x2="333.5" y2="366.52171428571427" stroke="#999" stroke-width="0.7" />
<line x1="332.7" y1="361.5857142857143" x2="334.3" y2="361.5857142857143" stroke="#999" stroke-width="0.7" />
<rect x="327.79999999999995" y="366.92171428571424" width="11.400000000000045" height="3.4782857142857098" fill="#ffffff" stroke="#999" stroke-width="0.8"/>
<line x1="345.8" y1="260.3977142857143" x2="345.8" y2="289.30857142857144" stroke="#999" stroke-width="0.7" />
<line x1="345.0" y1="260.3977142857143" x2="346.6" y2="260.3977142857143" stroke="#999" stroke-width="0.7" />
<rect x="340.0" y="289.7085714285714" width="11.599999999999977" height="80.69142857142853" fill="#0a0a0a" stroke="#000" stroke-width="0.8"/>
<line x1="358.3" y1="324.2131428571428" x2="358.3" y2="339.37371428571424" stroke="#999" stroke-width="0.7" />
<line x1="357.5" y1="324.2131428571428" x2="359.1" y2="324.2131428571428" stroke="#999" stroke-width="0.7" />
<rect x="352.4" y="339.7737142857142" width="11.800000000000022" height="30.626285714285736" fill="#999999" stroke="#777" stroke-width="0.8"/>
<line x1="370.6" y1="350.3034285714285" x2="370.6" y2="358.4125714285714" stroke="#999" stroke-width="0.7" />
<line x1="369.8" y1="350.3034285714285" x2="371.40000000000003" y2="350.3034285714285" stroke="#999" stroke-width="0.7" />
<rect x="365.0" y="358.8125714285714" width="11.2" height="11.587428571428552" fill="#dddddd" stroke="#999" stroke-width="0.8"/>
<line x1="412.95" y1="331.2645714285714" x2="412.95" y2="344.3097142857143" stroke="#999" stroke-width="0.7" />
<line x1="412.15" y1="331.2645714285714" x2="413.75" y2="331.2645714285714" stroke="#999" stroke-width="0.7" />
<rect x="407.29999999999995" y="344.70971428571426" width="11.300000000000022" height="25.6902857142857" fill="#0a0a0a" stroke="#000" stroke-width="0.8"/>
<line x1="425.1" y1="337.2582857142857" x2="425.1" y2="347.83542857142857" stroke="#999" stroke-width="0.7" />
<line x1="424.3" y1="337.2582857142857" x2="425.90000000000003" y2="337.2582857142857" stroke="#999" stroke-width="0.7" />
<rect x="419.4" y="348.23542857142854" width="11.399999999999988" height="22.164571428571413" fill="#999999" stroke="#777" stroke-width="0.8"/>
<line x1="437.35" y1="352.4188571428571" x2="437.35" y2="360.17542857142854" stroke="#999" stroke-width="0.7" />
<line x1="436.55" y1="352.4188571428571" x2="438.15000000000003" y2="352.4188571428571" stroke="#999" stroke-width="0.7" />
<rect x="431.59999999999997" y="360.5754285714285" width="11.50000000000001" height="9.824571428571437" fill="#dddddd" stroke="#999" stroke-width="0.8"/>
<line x1="467.25" y1="358.06" x2="467.25" y2="363.3485714285714" stroke="#999" stroke-width="0.7" />
<line x1="466.45" y1="358.06" x2="468.05" y2="358.06" stroke="#999" stroke-width="0.7" />
<rect x="461.7" y="363.7485714285714" width="11.099999999999977" height="6.651428571428573" fill="#ffffff" stroke="#999" stroke-width="0.8"/>
<line x1="479.35" y1="323.15542857142856" x2="479.35" y2="334.7902857142857" stroke="#999" stroke-width="0.7" />
<line x1="478.55" y1="323.15542857142856" x2="480.15000000000003" y2="323.15542857142856" stroke="#999" stroke-width="0.7" />
<rect x="473.59999999999997" y="335.19028571428566" width="11.50000000000001" height="35.20971428571429" fill="#0a0a0a" stroke="#000" stroke-width="0.8"/>
<line x1="491.6" y1="343.95714285714286" x2="491.6" y2="352.0662857142857" stroke="#999" stroke-width="0.7" />
<line x1="490.8" y1="343.95714285714286" x2="492.40000000000003" y2="343.95714285714286" stroke="#999" stroke-width="0.7" />
<rect x="485.9" y="352.4662857142857" width="11.399999999999988" height="17.93371428571428" fill="#999999" stroke="#777" stroke-width="0.8"/>
<line x1="503.85" y1="354.88685714285714" x2="503.85" y2="360.17542857142854" stroke="#999" stroke-width="0.7" />
<line x1="503.05" y1="354.88685714285714" x2="504.65000000000003" y2="354.88685714285714" stroke="#999" stroke-width="0.7" />
<rect x="498.09999999999997" y="360.5754285714285" width="11.50000000000001" height="9.824571428571437" fill="#dddddd" stroke="#999" stroke-width="0.8"/>
<text x="413" y="327.2" font-size="9.5" font-weight="bold" text-anchor="middle" fill="#000" stroke="#000" stroke-width="0.2" >*</text>
<text x="479.3" y="322.5" font-size="9.5" font-weight="bold" text-anchor="middle" fill="#000" stroke="#000" stroke-width="0.2" >*</text>
<text x="352.4" y="380.5" font-size="5.2" font-weight="bold" text-anchor="middle" fill="#000" textLength="46.8" lengthAdjust="spacingAndGlyphs" stroke="#000" stroke-width="0.12" >negative siRNA</text>
<text x="352.3" y="386.8" font-size="5.2" font-weight="bold" text-anchor="middle" fill="#000" textLength="20.5" lengthAdjust="spacingAndGlyphs" stroke="#000" stroke-width="0.12" >n=216</text>
<text x="419.3" y="380.5" font-size="5.2" font-weight="bold" text-anchor="middle" fill="#000" textLength="50.6" lengthAdjust="spacingAndGlyphs" stroke="#000" stroke-width="0.12" >CD9 siRNA n=98</text>
<text x="485.5" y="380.5" font-size="5.2" font-weight="bold" text-anchor="middle" fill="#000" textLength="61.1" lengthAdjust="spacingAndGlyphs" stroke="#000" stroke-width="0.12" >CD151 siRNA n=118</text>
<text transform="translate(305.8,307.9) rotate(-90)" font-size="5.5" font-weight="bold" text-anchor="middle" fill="#000" stroke="#000" stroke-width="0.05" textLength="42.2" lengthAdjust="spacingAndGlyphs">number of cells</text>
<rect x="455.4" y="259.5" width="48.1" height="31.3" fill="#fff" stroke="#999" stroke-width="0.7"/>
<rect x="457.2" y="262.40000000000003" width="2.8" height="2.8" fill="#fff" stroke="#666" stroke-width="0.5"/>
<text x="461.8" y="265.7" font-size="5.6" font-weight="normal" text-anchor="start" fill="#111" textLength="16.7" lengthAdjust="spacingAndGlyphs" stroke="#111" stroke-width="0.1" >rolling</text>
<rect x="457.2" y="270.1" width="2.8" height="2.8" fill="#111" stroke="#000" stroke-width="0.5"/>
<text x="461.8" y="273.4" font-size="5.6" font-weight="normal" text-anchor="start" fill="#111" textLength="24.4" lengthAdjust="spacingAndGlyphs" stroke="#111" stroke-width="0.1" >adhesion</text>
<rect x="457.2" y="277.8" width="2.8" height="2.8" fill="#999" stroke="#777" stroke-width="0.5"/>
<text x="461.8" y="281.09999999999997" font-size="5.6" font-weight="normal" text-anchor="start" fill="#111" textLength="40" lengthAdjust="spacingAndGlyphs" stroke="#111" stroke-width="0.1" >transmigration</text>
<rect x="457.2" y="285.6" width="2.8" height="2.8" fill="#ddd" stroke="#888" stroke-width="0.5"/>
<text x="461.8" y="288.9" font-size="5.6" font-weight="normal" text-anchor="start" fill="#111" textLength="32.8" lengthAdjust="spacingAndGlyphs" stroke="#111" stroke-width="0.1" >detachment</text>
</svg></body></html>
